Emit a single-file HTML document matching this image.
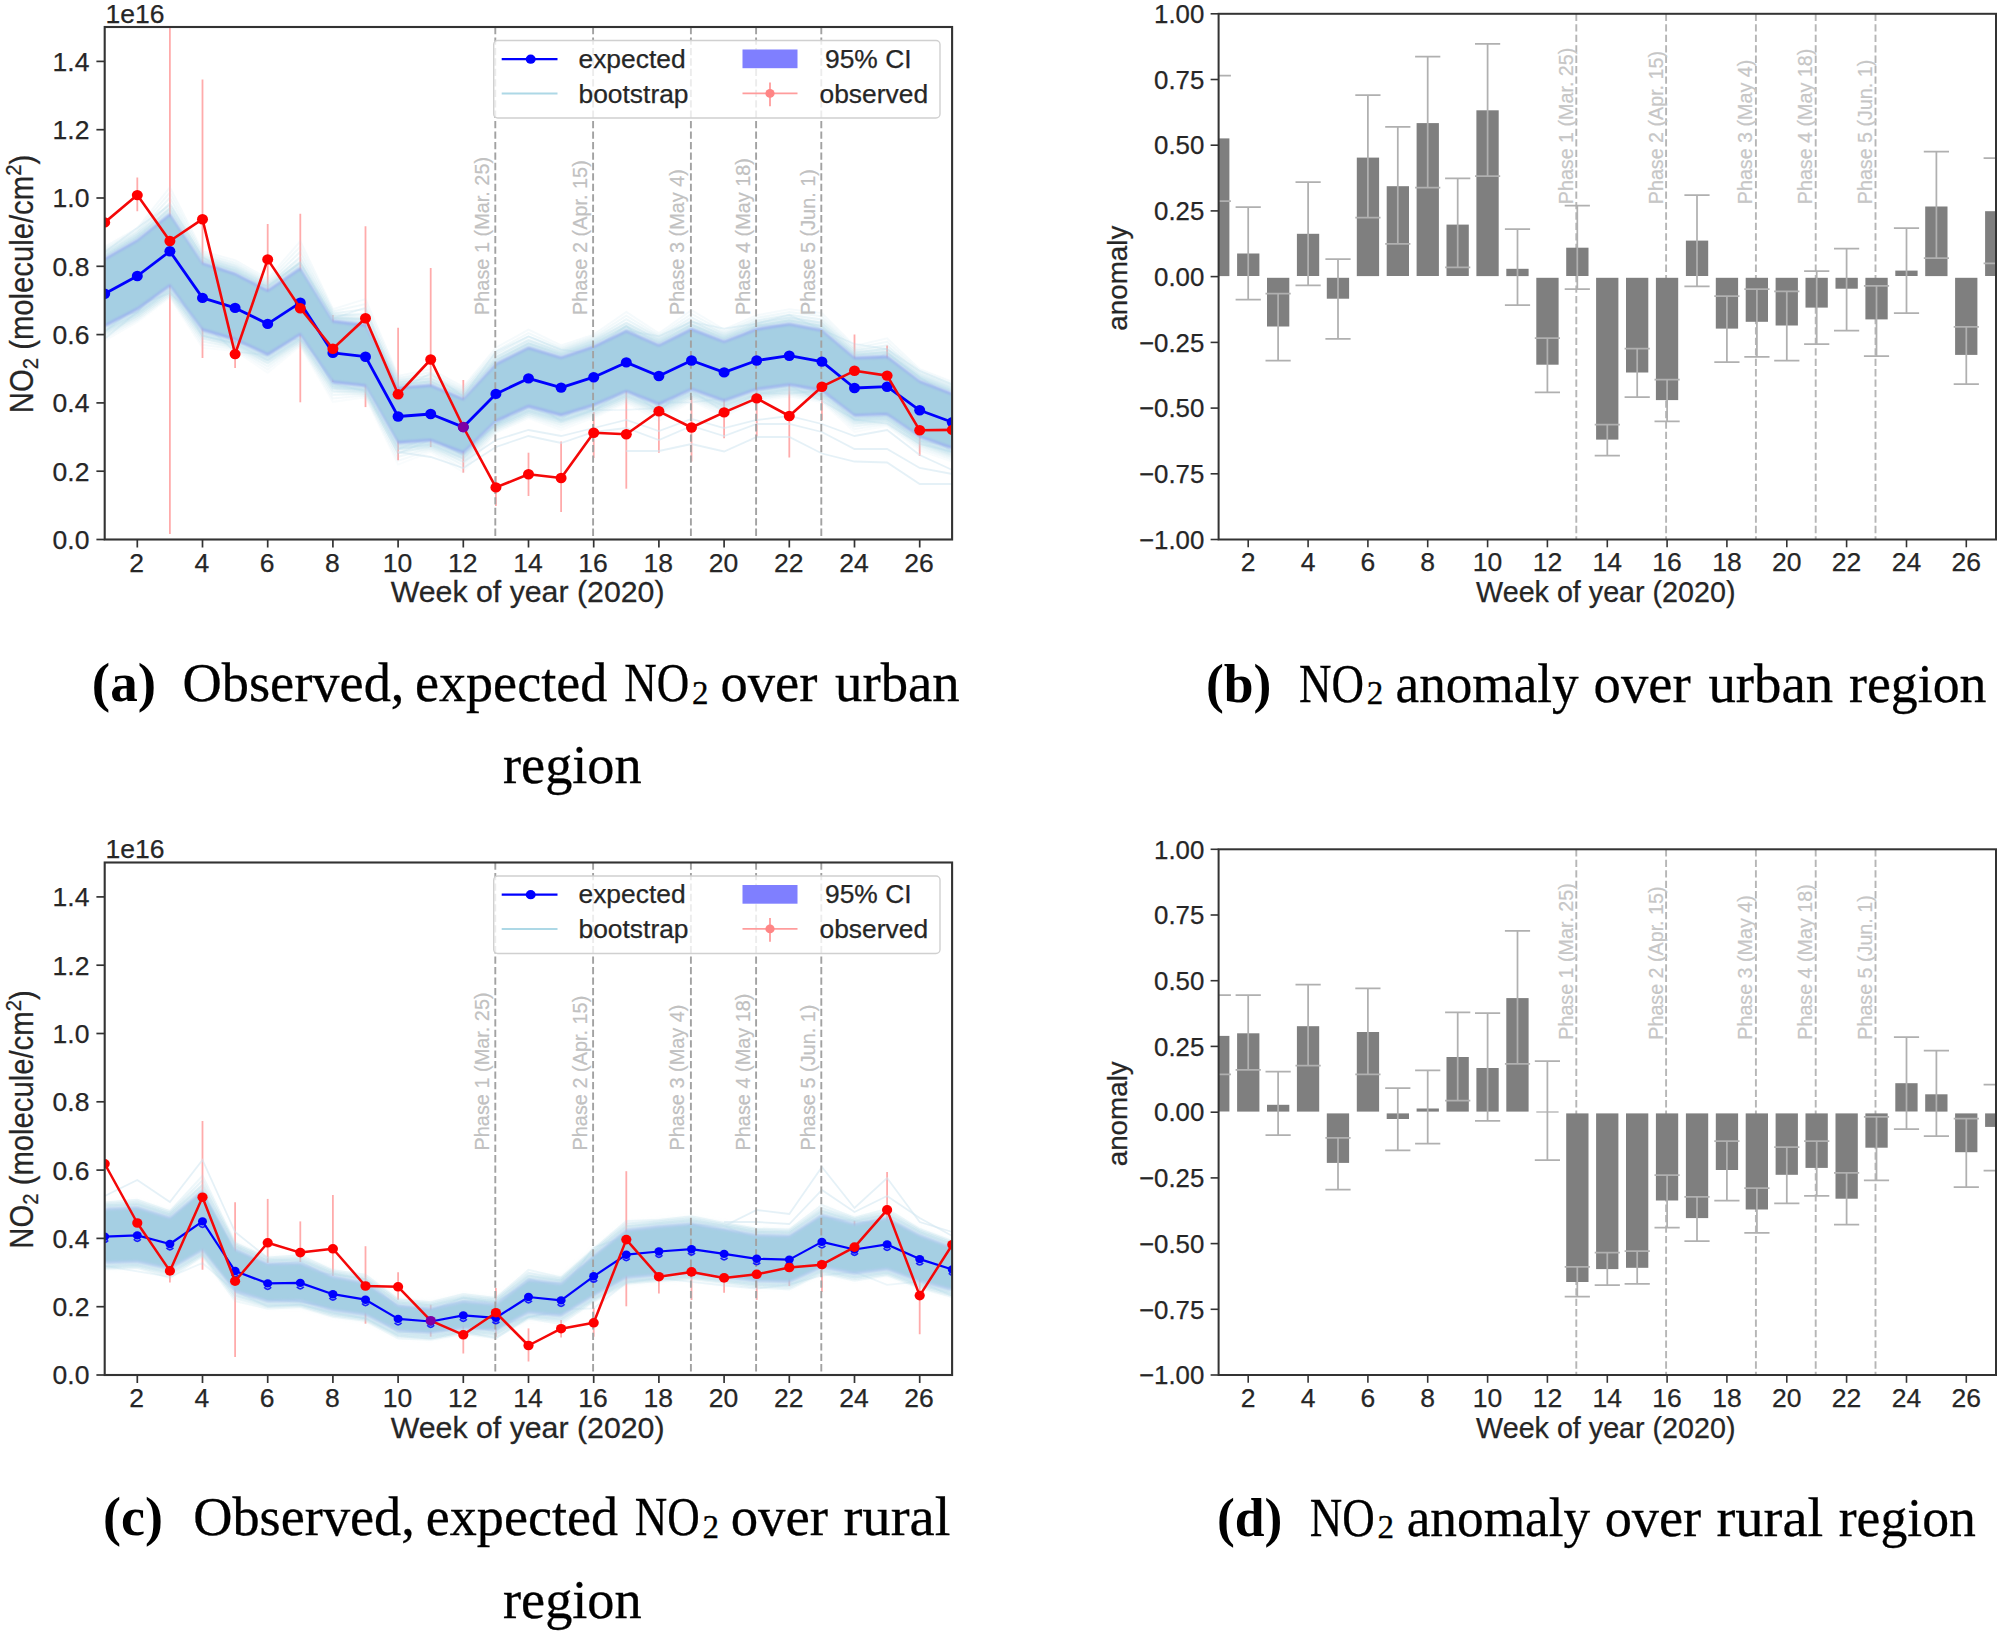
<!DOCTYPE html>
<html lang="en"><head><meta charset="utf-8"><title>NO2 observed, expected and anomaly</title>
<style>html,body{margin:0;padding:0;background:#fff}svg{display:block}</style></head>
<body>
<svg width="2001" height="1634" viewBox="0 0 2001 1634">
<rect width="2001" height="1634" fill="#ffffff"/>
<defs><filter id="soft" x="-5%" y="-20%" width="110%" height="140%"><feGaussianBlur stdDeviation="2.2"/></filter><filter id="soft2" x="-5%" y="-20%" width="110%" height="140%"><feGaussianBlur stdDeviation="1"/></filter></defs>
<g>
<clipPath id="clip1"><rect x="104.7" y="27" width="847.4" height="512.5"/></clipPath>
<g clip-path="url(#clip1)">
<line x1="137.3" y1="177.4" x2="137.3" y2="211.2" stroke="#ff0000" stroke-opacity="0.33" stroke-width="1.8"/>
<line x1="169.9" y1="28" x2="169.9" y2="534" stroke="#ff0000" stroke-opacity="0.33" stroke-width="1.8"/>
<line x1="202.5" y1="79.4" x2="202.5" y2="358" stroke="#ff0000" stroke-opacity="0.33" stroke-width="1.8"/>
<line x1="235.1" y1="341" x2="235.1" y2="368" stroke="#ff0000" stroke-opacity="0.33" stroke-width="1.8"/>
<line x1="267.7" y1="224" x2="267.7" y2="292.4" stroke="#ff0000" stroke-opacity="0.33" stroke-width="1.8"/>
<line x1="300.3" y1="213.7" x2="300.3" y2="402.3" stroke="#ff0000" stroke-opacity="0.33" stroke-width="1.8"/>
<line x1="332.9" y1="315" x2="332.9" y2="382" stroke="#ff0000" stroke-opacity="0.33" stroke-width="1.8"/>
<line x1="365.5" y1="226.3" x2="365.5" y2="407.1" stroke="#ff0000" stroke-opacity="0.33" stroke-width="1.8"/>
<line x1="398.1" y1="327.8" x2="398.1" y2="460.2" stroke="#ff0000" stroke-opacity="0.33" stroke-width="1.8"/>
<line x1="430.7" y1="268" x2="430.7" y2="447" stroke="#ff0000" stroke-opacity="0.33" stroke-width="1.8"/>
<line x1="463.3" y1="380" x2="463.3" y2="472.7" stroke="#ff0000" stroke-opacity="0.33" stroke-width="1.8"/>
<line x1="495.9" y1="476" x2="495.9" y2="506" stroke="#ff0000" stroke-opacity="0.33" stroke-width="1.8"/>
<line x1="528.5" y1="452.7" x2="528.5" y2="496" stroke="#ff0000" stroke-opacity="0.33" stroke-width="1.8"/>
<line x1="561.1" y1="441.5" x2="561.1" y2="512" stroke="#ff0000" stroke-opacity="0.33" stroke-width="1.8"/>
<line x1="593.7" y1="412" x2="593.7" y2="458" stroke="#ff0000" stroke-opacity="0.33" stroke-width="1.8"/>
<line x1="626.3" y1="390.4" x2="626.3" y2="488.7" stroke="#ff0000" stroke-opacity="0.33" stroke-width="1.8"/>
<line x1="658.9" y1="390" x2="658.9" y2="452.7" stroke="#ff0000" stroke-opacity="0.33" stroke-width="1.8"/>
<line x1="691.5" y1="396" x2="691.5" y2="461.5" stroke="#ff0000" stroke-opacity="0.33" stroke-width="1.8"/>
<line x1="724.1" y1="388" x2="724.1" y2="438.3" stroke="#ff0000" stroke-opacity="0.33" stroke-width="1.8"/>
<line x1="756.7" y1="375" x2="756.7" y2="436.7" stroke="#ff0000" stroke-opacity="0.33" stroke-width="1.8"/>
<line x1="789.3" y1="384" x2="789.3" y2="457.5" stroke="#ff0000" stroke-opacity="0.33" stroke-width="1.8"/>
<line x1="821.9" y1="365" x2="821.9" y2="420" stroke="#ff0000" stroke-opacity="0.33" stroke-width="1.8"/>
<line x1="854.5" y1="334.4" x2="854.5" y2="400" stroke="#ff0000" stroke-opacity="0.33" stroke-width="1.8"/>
<line x1="887.1" y1="345.6" x2="887.1" y2="400" stroke="#ff0000" stroke-opacity="0.33" stroke-width="1.8"/>
<line x1="919.7" y1="405" x2="919.7" y2="456" stroke="#ff0000" stroke-opacity="0.33" stroke-width="1.8"/>
<g filter="url(#soft)">
<polygon points="104.7,250.4 137.3,231.8 169.9,205.9 202.5,254.8 235.1,265.3 267.7,282.1 300.3,259.9 332.9,312.6 365.5,316.6 398.1,379.4 430.7,376.7 463.3,390.5 495.9,355.6 528.5,339.3 561.1,349 593.7,338.1 626.3,322.5 658.9,336.8 691.5,320.6 724.1,333 756.7,320.6 789.3,315.5 821.9,321.7 854.5,349.4 887.1,348.1 919.7,372.8 952.3,385.4 952.3,457.2 919.7,445.8 887.1,423.3 854.5,424.6 821.9,399.5 789.3,393.9 756.7,398.4 724.1,409.8 691.5,398.4 658.9,413.2 626.3,400.3 593.7,414.3 561.1,424.2 528.5,415.5 495.9,430.2 463.3,461.7 430.7,449.3 398.1,451.6 365.5,394.8 332.9,391.2 300.3,343.5 267.7,363.7 235.1,348.5 202.5,339 169.9,294.7 137.3,318.2 104.7,335" fill="#add8e6" fill-opacity="0.30"/>
<polygon points="104.7,254.9 137.3,236.3 169.9,210.4 202.5,259.3 235.1,269.8 267.7,286.6 300.3,264.4 332.9,317.1 365.5,321.1 398.1,383.9 430.7,381.2 463.3,395 495.9,360.1 528.5,343.8 561.1,353.5 593.7,342.6 626.3,327 658.9,341.3 691.5,325.1 724.1,337.5 756.7,325.1 789.3,320 821.9,326.2 854.5,353.9 887.1,352.6 919.7,377.3 952.3,389.9 952.3,453.7 919.7,442.3 887.1,419.8 854.5,421.1 821.9,396 789.3,390.4 756.7,394.9 724.1,406.3 691.5,394.9 658.9,409.7 626.3,396.8 593.7,410.8 561.1,420.7 528.5,412 495.9,426.7 463.3,458.2 430.7,445.8 398.1,448.1 365.5,391.3 332.9,387.7 300.3,340 267.7,360.2 235.1,345 202.5,335.5 169.9,291.2 137.3,314.7 104.7,331.5" fill="#add8e6" fill-opacity="0.45"/>
</g>
<polyline points="104.7,338.8 137.3,311.7 169.9,281.7 202.5,324.2 235.1,341.9 267.7,349.8 300.3,326.3 332.9,386.1 365.5,389.3 398.1,448.9 430.7,437.5 463.3,455.7 495.9,423.5 528.5,399.2 561.1,421.4 593.7,410.1 626.3,409.8 658.9,408.1 691.5,391 724.1,411.5 756.7,393.3 789.3,393.6 821.9,390.6 854.5,419.7 887.1,423.7 919.7,444 952.3,451.9" fill="none" stroke="#add8e6" stroke-opacity="0.22" stroke-width="1.8"/>
<polyline points="104.7,268.1 137.3,247 169.9,226.4 202.5,270.7 235.1,287.4 267.7,295.7 300.3,275.6 332.9,330.7 365.5,322.8 398.1,389.6 430.7,386.4 463.3,415.2 495.9,368.1 528.5,356.9 561.1,366.1 593.7,349.5 626.3,325.6 658.9,356.5 691.5,331.3 724.1,351.1 756.7,325.3 789.3,326.1 821.9,343.6 854.5,371.8 887.1,352.8 919.7,377.3 952.3,397.8" fill="none" stroke="#add8e6" stroke-opacity="0.22" stroke-width="1.8"/>
<polyline points="104.7,314.3 137.3,298.2 169.9,264.1 202.5,321.5 235.1,335.1 267.7,339.5 300.3,311.5 332.9,365.7 365.5,379.7 398.1,422.2 430.7,429.9 463.3,437.2 495.9,410 528.5,394.2 561.1,404.8 593.7,404.4 626.3,383 658.9,402.2 691.5,377.4 724.1,386.7 756.7,380.8 789.3,354.4 821.9,379.1 854.5,406.2 887.1,395.9 919.7,429.8 952.3,435.1" fill="none" stroke="#add8e6" stroke-opacity="0.22" stroke-width="1.8"/>
<polyline points="104.7,252.1 137.3,227.7 169.9,205 202.5,256.9 235.1,277.6 267.7,286.1 300.3,262.9 332.9,318.5 365.5,307.6 398.1,390.4 430.7,373.4 463.3,396.5 495.9,351.7 528.5,336.2 561.1,349.7 593.7,353.8 626.3,330.5 658.9,336.1 691.5,321.9 724.1,328.7 756.7,323.6 789.3,314.9 821.9,329.8 854.5,344 887.1,349.2 919.7,370.9 952.3,384.4" fill="none" stroke="#add8e6" stroke-opacity="0.22" stroke-width="1.8"/>
<polyline points="104.7,313.6 137.3,299.8 169.9,280.5 202.5,325.2 235.1,316.7 267.7,346 300.3,308.7 332.9,370 365.5,387.1 398.1,431.3 430.7,427.8 463.3,443.9 495.9,410.6 528.5,395.5 561.1,399.4 593.7,401.3 626.3,385.7 658.9,391.6 691.5,380 724.1,393.9 756.7,384.8 789.3,375.9 821.9,383.6 854.5,403 887.1,396.5 919.7,423.4 952.3,444.5" fill="none" stroke="#add8e6" stroke-opacity="0.22" stroke-width="1.8"/>
<polyline points="104.7,320.9 137.3,298.4 169.9,281.2 202.5,336 235.1,343.3 267.7,344.2 300.3,328.2 332.9,367.2 365.5,373.1 398.1,439.7 430.7,436.3 463.3,454.7 495.9,424.8 528.5,407.2 561.1,419.1 593.7,397 626.3,378.7 658.9,402.7 691.5,402.4 724.1,398.3 756.7,376.7 789.3,381.4 821.9,395 854.5,404.3 887.1,414.9 919.7,428.7 952.3,452" fill="none" stroke="#add8e6" stroke-opacity="0.22" stroke-width="1.8"/>
<polyline points="104.7,316.9 137.3,312.5 169.9,270.3 202.5,313.8 235.1,341.9 267.7,337.9 300.3,339.4 332.9,372 365.5,369 398.1,434.2 430.7,432.6 463.3,445.7 495.9,411 528.5,404.2 561.1,391.1 593.7,392.3 626.3,379.8 658.9,406.8 691.5,366.3 724.1,389 756.7,372 789.3,370.5 821.9,385.1 854.5,409.1 887.1,414.5 919.7,424.4 952.3,441.5" fill="none" stroke="#add8e6" stroke-opacity="0.22" stroke-width="1.8"/>
<polyline points="104.7,331.7 137.3,305.5 169.9,293.1 202.5,322.3 235.1,351.7 267.7,355.1 300.3,332.9 332.9,383.7 365.5,391.3 398.1,453.7 430.7,439.7 463.3,450.9 495.9,425 528.5,400.7 561.1,404.2 593.7,410.7 626.3,388.5 658.9,411.5 691.5,382.3 724.1,381.5 756.7,391.1 789.3,385.6 821.9,401 854.5,419 887.1,416.3 919.7,440.7 952.3,446.3" fill="none" stroke="#add8e6" stroke-opacity="0.22" stroke-width="1.8"/>
<polyline points="104.7,285.8 137.3,282 169.9,247.2 202.5,296.7 235.1,315 267.7,332.4 300.3,297.4 332.9,368.4 365.5,354.6 398.1,423.4 430.7,421.7 463.3,430.2 495.9,396.8 528.5,392 561.1,395.2 593.7,382 626.3,352.1 658.9,372.9 691.5,370.2 724.1,375.5 756.7,356 789.3,353.3 821.9,361.4 854.5,394.3 887.1,391 919.7,418.3 952.3,419" fill="none" stroke="#add8e6" stroke-opacity="0.22" stroke-width="1.8"/>
<polyline points="104.7,255.7 137.3,237.1 169.9,208.2 202.5,260.1 235.1,270.3 267.7,287.4 300.3,262.2 332.9,317.9 365.5,319.1 398.1,384.7 430.7,381.2 463.3,395.8 495.9,360 528.5,343.4 561.1,354.3 593.7,343.4 626.3,326.4 658.9,342.1 691.5,324.5 724.1,338.3 756.7,325.5 789.3,320.3 821.9,326 854.5,354.7 887.1,352.1 919.7,378.1 952.3,390.7" fill="none" stroke="#add8e6" stroke-opacity="0.30" stroke-width="2"/>
<polyline points="104.7,330.9 137.3,313.7 169.9,290 202.5,335.6 235.1,343.8 267.7,360.3 300.3,338.8 332.9,388.2 365.5,390.1 398.1,449.1 430.7,444.6 463.3,458.6 495.9,425.5 528.5,410.8 561.1,420.2 593.7,409.8 626.3,395.6 658.9,409.5 691.5,393.8 724.1,405.9 756.7,393.8 789.3,389.2 821.9,394.8 854.5,420.8 887.1,418.6 919.7,441.5 952.3,452.9" fill="none" stroke="#add8e6" stroke-opacity="0.26" stroke-width="2"/>
<polyline points="104.7,253.5 137.3,234.9 169.9,203 202.5,257.9 235.1,267.8 267.7,285.2 300.3,257 332.9,315.7 365.5,314.1 398.1,382.5 430.7,378.3 463.3,393.6 495.9,357 528.5,340 561.1,352.1 593.7,341.2 626.3,322.8 658.9,339.9 691.5,320.9 724.1,336.1 756.7,322.9 789.3,317.5 821.9,322.8 854.5,352.5 887.1,348.7 919.7,375.9 952.3,388.5" fill="none" stroke="#add8e6" stroke-opacity="0.25" stroke-width="2"/>
<polyline points="104.7,333.3 137.3,315.8 169.9,291.8 202.5,338.6 235.1,345.6 267.7,363.4 300.3,340.6 332.9,391.6 365.5,391.9 398.1,452.9 430.7,446.4 463.3,462.1 495.9,427.3 528.5,412.6 561.1,422.7 593.7,411.7 626.3,397.4 658.9,412.3 691.5,395.6 724.1,408.5 756.7,395.6 789.3,391 821.9,396.6 854.5,423.6 887.1,420.4 919.7,443.7 952.3,455.1" fill="none" stroke="#add8e6" stroke-opacity="0.21" stroke-width="2"/>
<polyline points="104.7,251.3 137.3,232.7 169.9,197.8 202.5,255.7 235.1,265.3 267.7,283 300.3,251.8 332.9,313.5 365.5,309.1 398.1,380.2 430.7,375.3 463.3,391.4 495.9,353.9 528.5,336.5 561.1,349.9 593.7,339 626.3,319.2 658.9,337.7 691.5,317.3 724.1,333.9 756.7,320.4 789.3,314.8 821.9,319.5 854.5,350.3 887.1,345.2 919.7,373.7 952.3,386.3" fill="none" stroke="#add8e6" stroke-opacity="0.21" stroke-width="2"/>
<polyline points="104.7,335.7 137.3,317.8 169.9,293.6 202.5,341.7 235.1,347.4 267.7,366.5 300.3,342.4 332.9,395 365.5,393.7 398.1,456.8 430.7,448.2 463.3,465.5 495.9,429.1 528.5,414.4 561.1,425.2 593.7,413.7 626.3,399.2 658.9,415.1 691.5,397.3 724.1,411.2 756.7,397.3 789.3,392.8 821.9,398.4 854.5,426.4 887.1,422.2 919.7,445.9 952.3,457.3" fill="none" stroke="#add8e6" stroke-opacity="0.16" stroke-width="2"/>
<polyline points="104.7,249.1 137.3,230.5 169.9,192.6 202.5,253.5 235.1,262.8 267.7,280.8 300.3,246.6 332.9,311.3 365.5,304.1 398.1,378.1 430.7,372.3 463.3,389.2 495.9,350.8 528.5,333.1 561.1,347.7 593.7,336.8 626.3,315.6 658.9,335.5 691.5,313.8 724.1,331.7 756.7,317.8 789.3,312.1 821.9,316.3 854.5,348.1 887.1,341.8 919.7,371.5 952.3,384.1" fill="none" stroke="#add8e6" stroke-opacity="0.16" stroke-width="2"/>
<polyline points="104.7,338.2 137.3,319.9 169.9,295.4 202.5,344.8 235.1,349.2 267.7,369.6 300.3,344.2 332.9,398.4 365.5,395.5 398.1,460.7 430.7,450 463.3,468.9 495.9,430.9 528.5,416.2 561.1,427.6 593.7,415.6 626.3,401 658.9,417.9 691.5,399.1 724.1,413.8 756.7,399.1 789.3,394.6 821.9,400.2 854.5,429.2 887.1,424 919.7,448.1 952.3,459.5" fill="none" stroke="#add8e6" stroke-opacity="0.12" stroke-width="2"/>
<polyline points="104.7,246.9 137.3,228.3 169.9,187.4 202.5,251.3 235.1,260.3 267.7,278.6 300.3,241.4 332.9,309.1 365.5,299.1 398.1,375.9 430.7,369.3 463.3,387 495.9,347.7 528.5,329.7 561.1,345.5 593.7,334.6 626.3,311.9 658.9,333.3 691.5,310.2 724.1,329.5 756.7,315.3 789.3,309.3 821.9,313.1 854.5,345.9 887.1,338.3 919.7,369.3 952.3,381.9" fill="none" stroke="#add8e6" stroke-opacity="0.12" stroke-width="2"/>
<polyline points="104.7,340.6 137.3,321.9 169.9,297.2 202.5,347.9 235.1,351 267.7,372.7 300.3,346 332.9,401.8 365.5,397.3 398.1,464.6 430.7,451.8 463.3,472.3 495.9,432.7 528.5,418 561.1,430.1 593.7,417.6 626.3,402.8 658.9,420.8 691.5,400.9 724.1,416.4 756.7,400.9 789.3,396.4 821.9,402 854.5,431.9 887.1,425.8 919.7,450.3 952.3,461.8" fill="none" stroke="#add8e6" stroke-opacity="0.08" stroke-width="2"/>
<polyline points="626.3,451 658.9,451 691.5,444 724.1,451.5 756.7,437 789.3,437 821.9,453.5 854.5,461.5 887.1,462.5 919.7,484 952.3,484" fill="none" stroke="#cfe6f1" stroke-opacity="0.55" stroke-width="1.8"/>
<polyline points="398.1,452 430.7,457 463.3,468 495.9,447 528.5,436 561.1,443 593.7,432 626.3,428 658.9,440 691.5,426 724.1,436 756.7,424 789.3,424 821.9,432 854.5,449 887.1,449 919.7,468 952.3,474" fill="none" stroke="#cfe6f1" stroke-opacity="0.55" stroke-width="1.8"/>
<polyline points="463.3,462 495.9,440 528.5,430 561.1,436 593.7,428 626.3,420 658.9,431 691.5,419 724.1,428 756.7,420 789.3,416 821.9,424 854.5,436 887.1,430 919.7,455 952.3,470" fill="none" stroke="#cfe6f1" stroke-opacity="0.55" stroke-width="1.8"/>
<g filter="url(#soft2)">
<polygon points="104.7,258.1 137.3,239.5 169.9,213.6 202.5,262.5 235.1,273 267.7,289.8 300.3,267.6 332.9,320.3 365.5,324.3 398.1,387.1 430.7,384.4 463.3,398.2 495.9,363.3 528.5,347 561.1,356.7 593.7,345.8 626.3,330.2 658.9,344.5 691.5,328.2 724.1,340.7 756.7,328.2 789.3,323.2 821.9,329.4 854.5,357.1 887.1,355.8 919.7,380.5 952.3,393.1 952.3,448.9 919.7,437.5 887.1,415 854.5,416.3 821.9,391.2 789.3,385.6 756.7,390.1 724.1,401.5 691.5,390.1 658.9,404.9 626.3,392 593.7,406 561.1,415.9 528.5,407.2 495.9,421.9 463.3,453.4 430.7,441 398.1,443.4 365.5,386.5 332.9,382.9 300.3,335.2 267.7,355.4 235.1,340.2 202.5,330.7 169.9,286.4 137.3,309.9 104.7,326.7" fill="#8a98f0" fill-opacity="0.8"/>
<polygon points="104.7,260.2 137.3,241.6 169.9,215.7 202.5,264.6 235.1,275.1 267.7,291.9 300.3,269.7 332.9,322.4 365.5,326.4 398.1,389.1 430.7,386.5 463.3,400.3 495.9,365.4 528.5,349.1 561.1,358.8 593.7,347.9 626.3,332.3 658.9,346.6 691.5,330.4 724.1,342.8 756.7,330.4 789.3,325.3 821.9,331.5 854.5,359.2 887.1,357.9 919.7,382.6 952.3,395.2 952.3,446.8 919.7,435.4 887.1,412.9 854.5,414.2 821.9,389.1 789.3,383.5 756.7,388.1 724.1,399.4 691.5,388.1 658.9,402.8 626.3,389.9 593.7,403.9 561.1,413.8 528.5,405.1 495.9,419.8 463.3,451.3 430.7,438.9 398.1,441.2 365.5,384.4 332.9,380.8 300.3,333.1 267.7,353.3 235.1,338.1 202.5,328.6 169.9,284.3 137.3,307.8 104.7,324.6" fill="#a5cfe3" fill-opacity="1"/>
</g>
<line x1="495.3" y1="27" x2="495.3" y2="539.5" stroke="#a2a2a2" stroke-width="1.9" stroke-dasharray="7.3 3.15"/>
<line x1="593.1" y1="27" x2="593.1" y2="539.5" stroke="#a2a2a2" stroke-width="1.9" stroke-dasharray="7.3 3.15"/>
<line x1="690.9" y1="27" x2="690.9" y2="539.5" stroke="#a2a2a2" stroke-width="1.9" stroke-dasharray="7.3 3.15"/>
<line x1="756.1" y1="27" x2="756.1" y2="539.5" stroke="#a2a2a2" stroke-width="1.9" stroke-dasharray="7.3 3.15"/>
<line x1="821.3" y1="27" x2="821.3" y2="539.5" stroke="#a2a2a2" stroke-width="1.9" stroke-dasharray="7.3 3.15"/>
<text transform="translate(488.8,315) rotate(-90)" font-family="'Liberation Sans', Arial, Helvetica, sans-serif" font-size="19.9" text-anchor="start" fill="#c1c1c1" stroke="#c1c1c1" stroke-width="0.2">Phase 1 (Mar. 25)</text>
<text transform="translate(586.6,315) rotate(-90)" font-family="'Liberation Sans', Arial, Helvetica, sans-serif" font-size="19.9" text-anchor="start" fill="#c1c1c1" stroke="#c1c1c1" stroke-width="0.2">Phase 2 (Apr. 15)</text>
<text transform="translate(684.4,315) rotate(-90)" font-family="'Liberation Sans', Arial, Helvetica, sans-serif" font-size="19.9" text-anchor="start" fill="#c1c1c1" stroke="#c1c1c1" stroke-width="0.2">Phase 3 (May 4)</text>
<text transform="translate(749.6,315) rotate(-90)" font-family="'Liberation Sans', Arial, Helvetica, sans-serif" font-size="19.9" text-anchor="start" fill="#c1c1c1" stroke="#c1c1c1" stroke-width="0.2">Phase 4 (May 18)</text>
<text transform="translate(814.8,315) rotate(-90)" font-family="'Liberation Sans', Arial, Helvetica, sans-serif" font-size="19.9" text-anchor="start" fill="#c1c1c1" stroke="#c1c1c1" stroke-width="0.2">Phase 5 (Jun. 1)</text>
<polyline points="104.7,293.7 137.3,276 169.9,251.3 202.5,297.9 235.1,307.9 267.7,323.9 300.3,302.7 332.9,352.9 365.5,356.7 398.1,416.5 430.7,414 463.3,427.1 495.9,393.9 528.5,378.4 561.1,387.6 593.7,377.2 626.3,362.4 658.9,376 691.5,360.5 724.1,372.4 756.7,360.5 789.3,355.7 821.9,361.6 854.5,388 887.1,386.7 919.7,410.3 952.3,422.3" fill="none" stroke="#0000ff" stroke-width="2.8" stroke-linejoin="round"/>
<ellipse cx="104.7" cy="293.7" rx="5.5" ry="5.2" fill="#0000ff"/>
<ellipse cx="137.3" cy="276" rx="5.5" ry="5.2" fill="#0000ff"/>
<ellipse cx="169.9" cy="251.3" rx="5.5" ry="5.2" fill="#0000ff"/>
<ellipse cx="202.5" cy="297.9" rx="5.5" ry="5.2" fill="#0000ff"/>
<ellipse cx="235.1" cy="307.9" rx="5.5" ry="5.2" fill="#0000ff"/>
<ellipse cx="267.7" cy="323.9" rx="5.5" ry="5.2" fill="#0000ff"/>
<ellipse cx="300.3" cy="302.7" rx="5.5" ry="5.2" fill="#0000ff"/>
<ellipse cx="332.9" cy="352.9" rx="5.5" ry="5.2" fill="#0000ff"/>
<ellipse cx="365.5" cy="356.7" rx="5.5" ry="5.2" fill="#0000ff"/>
<ellipse cx="398.1" cy="416.5" rx="5.5" ry="5.2" fill="#0000ff"/>
<ellipse cx="430.7" cy="414" rx="5.5" ry="5.2" fill="#0000ff"/>
<ellipse cx="463.3" cy="427.1" rx="5.5" ry="5.2" fill="#0000ff"/>
<ellipse cx="495.9" cy="393.9" rx="5.5" ry="5.2" fill="#0000ff"/>
<ellipse cx="528.5" cy="378.4" rx="5.5" ry="5.2" fill="#0000ff"/>
<ellipse cx="561.1" cy="387.6" rx="5.5" ry="5.2" fill="#0000ff"/>
<ellipse cx="593.7" cy="377.2" rx="5.5" ry="5.2" fill="#0000ff"/>
<ellipse cx="626.3" cy="362.4" rx="5.5" ry="5.2" fill="#0000ff"/>
<ellipse cx="658.9" cy="376" rx="5.5" ry="5.2" fill="#0000ff"/>
<ellipse cx="691.5" cy="360.5" rx="5.5" ry="5.2" fill="#0000ff"/>
<ellipse cx="724.1" cy="372.4" rx="5.5" ry="5.2" fill="#0000ff"/>
<ellipse cx="756.7" cy="360.5" rx="5.5" ry="5.2" fill="#0000ff"/>
<ellipse cx="789.3" cy="355.7" rx="5.5" ry="5.2" fill="#0000ff"/>
<ellipse cx="821.9" cy="361.6" rx="5.5" ry="5.2" fill="#0000ff"/>
<ellipse cx="854.5" cy="388" rx="5.5" ry="5.2" fill="#0000ff"/>
<ellipse cx="887.1" cy="386.7" rx="5.5" ry="5.2" fill="#0000ff"/>
<ellipse cx="919.7" cy="410.3" rx="5.5" ry="5.2" fill="#0000ff"/>
<ellipse cx="952.3" cy="422.3" rx="5.5" ry="5.2" fill="#0000ff"/>
<polyline points="104.7,222.4 137.3,195.1 169.9,241 202.5,219.2 235.1,354.1 267.7,259.4 300.3,308.2 332.9,348.7 365.5,318.2 398.1,394.3 430.7,359.5 463.3,427 495.9,487.4 528.5,474.3 561.1,478 593.7,432.7 626.3,434.3 658.9,411.3 691.5,427.5 724.1,412.4 756.7,398.4 789.3,416 821.9,386.7 854.5,370.8 887.1,375.6 919.7,430.3 952.3,429.9" fill="none" stroke="#f40808" stroke-width="2.6" stroke-linejoin="round"/>
<ellipse cx="104.7" cy="222.4" rx="5.5" ry="5.2" fill="#ff0000"/>
<ellipse cx="137.3" cy="195.1" rx="5.5" ry="5.2" fill="#ff0000"/>
<ellipse cx="169.9" cy="241" rx="5.5" ry="5.2" fill="#ff0000"/>
<ellipse cx="202.5" cy="219.2" rx="5.5" ry="5.2" fill="#ff0000"/>
<ellipse cx="235.1" cy="354.1" rx="5.5" ry="5.2" fill="#ff0000"/>
<ellipse cx="267.7" cy="259.4" rx="5.5" ry="5.2" fill="#ff0000"/>
<ellipse cx="300.3" cy="308.2" rx="5.5" ry="5.2" fill="#ff0000"/>
<ellipse cx="332.9" cy="348.7" rx="5.5" ry="5.2" fill="#ff0000"/>
<ellipse cx="365.5" cy="318.2" rx="5.5" ry="5.2" fill="#ff0000"/>
<ellipse cx="398.1" cy="394.3" rx="5.5" ry="5.2" fill="#ff0000"/>
<ellipse cx="430.7" cy="359.5" rx="5.5" ry="5.2" fill="#ff0000"/>
<ellipse cx="463.3" cy="427" rx="5.5" ry="5.2" fill="#7d00a5"/>
<ellipse cx="495.9" cy="487.4" rx="5.5" ry="5.2" fill="#ff0000"/>
<ellipse cx="528.5" cy="474.3" rx="5.5" ry="5.2" fill="#ff0000"/>
<ellipse cx="561.1" cy="478" rx="5.5" ry="5.2" fill="#ff0000"/>
<ellipse cx="593.7" cy="432.7" rx="5.5" ry="5.2" fill="#ff0000"/>
<ellipse cx="626.3" cy="434.3" rx="5.5" ry="5.2" fill="#ff0000"/>
<ellipse cx="658.9" cy="411.3" rx="5.5" ry="5.2" fill="#ff0000"/>
<ellipse cx="691.5" cy="427.5" rx="5.5" ry="5.2" fill="#ff0000"/>
<ellipse cx="724.1" cy="412.4" rx="5.5" ry="5.2" fill="#ff0000"/>
<ellipse cx="756.7" cy="398.4" rx="5.5" ry="5.2" fill="#ff0000"/>
<ellipse cx="789.3" cy="416" rx="5.5" ry="5.2" fill="#ff0000"/>
<ellipse cx="821.9" cy="386.7" rx="5.5" ry="5.2" fill="#ff0000"/>
<ellipse cx="854.5" cy="370.8" rx="5.5" ry="5.2" fill="#ff0000"/>
<ellipse cx="887.1" cy="375.6" rx="5.5" ry="5.2" fill="#ff0000"/>
<ellipse cx="919.7" cy="430.3" rx="5.5" ry="5.2" fill="#ff0000"/>
<ellipse cx="952.3" cy="429.9" rx="5.5" ry="5.2" fill="#ff0000"/>
</g>
<rect x="493.7" y="40.5" width="446.3" height="77.5" rx="4" ry="4" fill="#ffffff" fill-opacity="0.8" stroke="#d0d0d0" stroke-width="1.4"/>
<line x1="501.7" y1="59.2" x2="557.5" y2="59.2" stroke="#0000ff" stroke-width="2.2"/>
<ellipse cx="530.7" cy="59.2" rx="5" ry="4.6" fill="#0000ff"/>
<line x1="501.7" y1="93.4" x2="557.5" y2="93.4" stroke="#add8e6" stroke-width="2"/>
<rect x="742.5" y="49.5" width="55" height="18.7" fill="#7f7fff"/>
<line x1="742.5" y1="93.4" x2="797.5" y2="93.4" stroke="#ff9c9c" stroke-width="1.8"/>
<line x1="770" y1="82.5" x2="770" y2="106.2" stroke="#ff9c9c" stroke-width="1.8"/>
<ellipse cx="770" cy="93.4" rx="4.6" ry="4.3" fill="#ff8585"/>
<text transform="translate(578.5,67.6)" font-family="'Liberation Sans', Arial, Helvetica, sans-serif" font-size="26.4" text-anchor="start" fill="#262626" stroke="#262626" stroke-width="0.25">expected</text>
<text transform="translate(578.5,102.6)" font-family="'Liberation Sans', Arial, Helvetica, sans-serif" font-size="26.4" text-anchor="start" fill="#262626" stroke="#262626" stroke-width="0.25">bootstrap</text>
<text transform="translate(825,67.6)" font-family="'Liberation Sans', Arial, Helvetica, sans-serif" font-size="26.4" text-anchor="start" fill="#262626" stroke="#262626" stroke-width="0.25">95% CI</text>
<text transform="translate(819.5,102.6)" font-family="'Liberation Sans', Arial, Helvetica, sans-serif" font-size="26.4" text-anchor="start" fill="#262626" stroke="#262626" stroke-width="0.25">observed</text>
<rect x="104.7" y="27" width="847.4" height="512.5" fill="none" stroke="#333333" stroke-width="2.1"/>
<line x1="96.4" y1="539.5" x2="104.7" y2="539.5" stroke="#333333" stroke-width="1.7"/>
<text transform="translate(89.4,548.9)" font-family="'Liberation Sans', Arial, Helvetica, sans-serif" font-size="26.5" text-anchor="end" fill="#262626" stroke="#262626" stroke-width="0.25">0.0</text>
<line x1="96.4" y1="471.2" x2="104.7" y2="471.2" stroke="#333333" stroke-width="1.7"/>
<text transform="translate(89.4,480.6)" font-family="'Liberation Sans', Arial, Helvetica, sans-serif" font-size="26.5" text-anchor="end" fill="#262626" stroke="#262626" stroke-width="0.25">0.2</text>
<line x1="96.4" y1="402.9" x2="104.7" y2="402.9" stroke="#333333" stroke-width="1.7"/>
<text transform="translate(89.4,412.3)" font-family="'Liberation Sans', Arial, Helvetica, sans-serif" font-size="26.5" text-anchor="end" fill="#262626" stroke="#262626" stroke-width="0.25">0.4</text>
<line x1="96.4" y1="334.6" x2="104.7" y2="334.6" stroke="#333333" stroke-width="1.7"/>
<text transform="translate(89.4,344)" font-family="'Liberation Sans', Arial, Helvetica, sans-serif" font-size="26.5" text-anchor="end" fill="#262626" stroke="#262626" stroke-width="0.25">0.6</text>
<line x1="96.4" y1="266.3" x2="104.7" y2="266.3" stroke="#333333" stroke-width="1.7"/>
<text transform="translate(89.4,275.7)" font-family="'Liberation Sans', Arial, Helvetica, sans-serif" font-size="26.5" text-anchor="end" fill="#262626" stroke="#262626" stroke-width="0.25">0.8</text>
<line x1="96.4" y1="198" x2="104.7" y2="198" stroke="#333333" stroke-width="1.7"/>
<text transform="translate(89.4,207.4)" font-family="'Liberation Sans', Arial, Helvetica, sans-serif" font-size="26.5" text-anchor="end" fill="#262626" stroke="#262626" stroke-width="0.25">1.0</text>
<line x1="96.4" y1="129.7" x2="104.7" y2="129.7" stroke="#333333" stroke-width="1.7"/>
<text transform="translate(89.4,139.1)" font-family="'Liberation Sans', Arial, Helvetica, sans-serif" font-size="26.5" text-anchor="end" fill="#262626" stroke="#262626" stroke-width="0.25">1.2</text>
<line x1="96.4" y1="61.4" x2="104.7" y2="61.4" stroke="#333333" stroke-width="1.7"/>
<text transform="translate(89.4,70.8)" font-family="'Liberation Sans', Arial, Helvetica, sans-serif" font-size="26.5" text-anchor="end" fill="#262626" stroke="#262626" stroke-width="0.25">1.4</text>
<line x1="137.3" y1="539.5" x2="137.3" y2="547.5" stroke="#333333" stroke-width="1.7"/>
<text transform="translate(136.7,571.6)" font-family="'Liberation Sans', Arial, Helvetica, sans-serif" font-size="26.5" text-anchor="middle" fill="#262626" stroke="#262626" stroke-width="0.25">2</text>
<line x1="202.5" y1="539.5" x2="202.5" y2="547.5" stroke="#333333" stroke-width="1.7"/>
<text transform="translate(201.9,571.6)" font-family="'Liberation Sans', Arial, Helvetica, sans-serif" font-size="26.5" text-anchor="middle" fill="#262626" stroke="#262626" stroke-width="0.25">4</text>
<line x1="267.7" y1="539.5" x2="267.7" y2="547.5" stroke="#333333" stroke-width="1.7"/>
<text transform="translate(267.1,571.6)" font-family="'Liberation Sans', Arial, Helvetica, sans-serif" font-size="26.5" text-anchor="middle" fill="#262626" stroke="#262626" stroke-width="0.25">6</text>
<line x1="332.9" y1="539.5" x2="332.9" y2="547.5" stroke="#333333" stroke-width="1.7"/>
<text transform="translate(332.3,571.6)" font-family="'Liberation Sans', Arial, Helvetica, sans-serif" font-size="26.5" text-anchor="middle" fill="#262626" stroke="#262626" stroke-width="0.25">8</text>
<line x1="398.1" y1="539.5" x2="398.1" y2="547.5" stroke="#333333" stroke-width="1.7"/>
<text transform="translate(397.5,571.6)" font-family="'Liberation Sans', Arial, Helvetica, sans-serif" font-size="26.5" text-anchor="middle" fill="#262626" stroke="#262626" stroke-width="0.25">10</text>
<line x1="463.3" y1="539.5" x2="463.3" y2="547.5" stroke="#333333" stroke-width="1.7"/>
<text transform="translate(462.7,571.6)" font-family="'Liberation Sans', Arial, Helvetica, sans-serif" font-size="26.5" text-anchor="middle" fill="#262626" stroke="#262626" stroke-width="0.25">12</text>
<line x1="528.5" y1="539.5" x2="528.5" y2="547.5" stroke="#333333" stroke-width="1.7"/>
<text transform="translate(527.9,571.6)" font-family="'Liberation Sans', Arial, Helvetica, sans-serif" font-size="26.5" text-anchor="middle" fill="#262626" stroke="#262626" stroke-width="0.25">14</text>
<line x1="593.7" y1="539.5" x2="593.7" y2="547.5" stroke="#333333" stroke-width="1.7"/>
<text transform="translate(593.1,571.6)" font-family="'Liberation Sans', Arial, Helvetica, sans-serif" font-size="26.5" text-anchor="middle" fill="#262626" stroke="#262626" stroke-width="0.25">16</text>
<line x1="658.9" y1="539.5" x2="658.9" y2="547.5" stroke="#333333" stroke-width="1.7"/>
<text transform="translate(658.3,571.6)" font-family="'Liberation Sans', Arial, Helvetica, sans-serif" font-size="26.5" text-anchor="middle" fill="#262626" stroke="#262626" stroke-width="0.25">18</text>
<line x1="724.1" y1="539.5" x2="724.1" y2="547.5" stroke="#333333" stroke-width="1.7"/>
<text transform="translate(723.5,571.6)" font-family="'Liberation Sans', Arial, Helvetica, sans-serif" font-size="26.5" text-anchor="middle" fill="#262626" stroke="#262626" stroke-width="0.25">20</text>
<line x1="789.3" y1="539.5" x2="789.3" y2="547.5" stroke="#333333" stroke-width="1.7"/>
<text transform="translate(788.7,571.6)" font-family="'Liberation Sans', Arial, Helvetica, sans-serif" font-size="26.5" text-anchor="middle" fill="#262626" stroke="#262626" stroke-width="0.25">22</text>
<line x1="854.5" y1="539.5" x2="854.5" y2="547.5" stroke="#333333" stroke-width="1.7"/>
<text transform="translate(853.9,571.6)" font-family="'Liberation Sans', Arial, Helvetica, sans-serif" font-size="26.5" text-anchor="middle" fill="#262626" stroke="#262626" stroke-width="0.25">24</text>
<line x1="919.7" y1="539.5" x2="919.7" y2="547.5" stroke="#333333" stroke-width="1.7"/>
<text transform="translate(919.1,571.6)" font-family="'Liberation Sans', Arial, Helvetica, sans-serif" font-size="26.5" text-anchor="middle" fill="#262626" stroke="#262626" stroke-width="0.25">26</text>
<text transform="translate(105.5,22.5)" font-family="'Liberation Sans', Arial, Helvetica, sans-serif" font-size="26.5" text-anchor="start" fill="#262626" stroke="#262626" stroke-width="0.25">1e16</text>
<text transform="translate(527.6,602.2) scale(1.010,1)" font-family="'Liberation Sans', Arial, Helvetica, sans-serif" font-size="30" text-anchor="middle" fill="#262626" stroke="#262626" stroke-width="0.25">Week of year (2020)</text>
<text transform="translate(32.7,284) rotate(-90)" font-family="'Liberation Sans', Arial, Helvetica, sans-serif" font-size="32.5" text-anchor="middle" fill="#262626" textLength="258.5" lengthAdjust="spacingAndGlyphs" stroke="#262626" stroke-width="0.25">NO<tspan font-size="22.7" dy="5.6">2</tspan><tspan dy="-5.6"> (molecule/cm</tspan><tspan font-size="22.7" dy="-11.8">2</tspan><tspan dy="11.8">)</tspan></text>
<clipPath id="clip2"><rect x="104.7" y="862.5" width="847.4" height="512.5"/></clipPath>
<g clip-path="url(#clip2)">
<line x1="169.9" y1="1261" x2="169.9" y2="1282.5" stroke="#ff0000" stroke-opacity="0.33" stroke-width="1.8"/>
<line x1="202.5" y1="1120.9" x2="202.5" y2="1269.7" stroke="#ff0000" stroke-opacity="0.33" stroke-width="1.8"/>
<line x1="235.1" y1="1202.3" x2="235.1" y2="1357.1" stroke="#ff0000" stroke-opacity="0.33" stroke-width="1.8"/>
<line x1="267.7" y1="1198.9" x2="267.7" y2="1262.8" stroke="#ff0000" stroke-opacity="0.33" stroke-width="1.8"/>
<line x1="300.3" y1="1221.4" x2="300.3" y2="1262" stroke="#ff0000" stroke-opacity="0.33" stroke-width="1.8"/>
<line x1="332.9" y1="1195.1" x2="332.9" y2="1275.7" stroke="#ff0000" stroke-opacity="0.33" stroke-width="1.8"/>
<line x1="365.5" y1="1246.2" x2="365.5" y2="1323.7" stroke="#ff0000" stroke-opacity="0.33" stroke-width="1.8"/>
<line x1="398.1" y1="1272.3" x2="398.1" y2="1299.7" stroke="#ff0000" stroke-opacity="0.33" stroke-width="1.8"/>
<line x1="430.7" y1="1304.7" x2="430.7" y2="1336.7" stroke="#ff0000" stroke-opacity="0.33" stroke-width="1.8"/>
<line x1="463.3" y1="1316" x2="463.3" y2="1353.5" stroke="#ff0000" stroke-opacity="0.33" stroke-width="1.8"/>
<line x1="495.9" y1="1288" x2="495.9" y2="1336.7" stroke="#ff0000" stroke-opacity="0.33" stroke-width="1.8"/>
<line x1="528.5" y1="1328.4" x2="528.5" y2="1361.5" stroke="#ff0000" stroke-opacity="0.33" stroke-width="1.8"/>
<line x1="561.1" y1="1320" x2="561.1" y2="1337.5" stroke="#ff0000" stroke-opacity="0.33" stroke-width="1.8"/>
<line x1="593.7" y1="1308" x2="593.7" y2="1336.7" stroke="#ff0000" stroke-opacity="0.33" stroke-width="1.8"/>
<line x1="626.3" y1="1171.2" x2="626.3" y2="1306.3" stroke="#ff0000" stroke-opacity="0.33" stroke-width="1.8"/>
<line x1="658.9" y1="1260" x2="658.9" y2="1293.5" stroke="#ff0000" stroke-opacity="0.33" stroke-width="1.8"/>
<line x1="691.5" y1="1252" x2="691.5" y2="1300" stroke="#ff0000" stroke-opacity="0.33" stroke-width="1.8"/>
<line x1="724.1" y1="1262" x2="724.1" y2="1292.7" stroke="#ff0000" stroke-opacity="0.33" stroke-width="1.8"/>
<line x1="756.7" y1="1255" x2="756.7" y2="1299.9" stroke="#ff0000" stroke-opacity="0.33" stroke-width="1.8"/>
<line x1="789.3" y1="1252" x2="789.3" y2="1286" stroke="#ff0000" stroke-opacity="0.33" stroke-width="1.8"/>
<line x1="821.9" y1="1245" x2="821.9" y2="1292" stroke="#ff0000" stroke-opacity="0.33" stroke-width="1.8"/>
<line x1="854.5" y1="1220.8" x2="854.5" y2="1265" stroke="#ff0000" stroke-opacity="0.33" stroke-width="1.8"/>
<line x1="887.1" y1="1172" x2="887.1" y2="1245" stroke="#ff0000" stroke-opacity="0.33" stroke-width="1.8"/>
<line x1="919.7" y1="1260" x2="919.7" y2="1334.3" stroke="#ff0000" stroke-opacity="0.33" stroke-width="1.8"/>
<line x1="952.3" y1="1216.8" x2="952.3" y2="1270" stroke="#ff0000" stroke-opacity="0.33" stroke-width="1.8"/>
<g filter="url(#soft)">
<polygon points="104.7,1202.9 137.3,1201.5 169.9,1211.6 202.5,1185 235.1,1243.3 267.7,1257.9 300.3,1257.3 332.9,1270.6 365.5,1277 398.1,1299.6 430.7,1302.6 463.3,1295.5 495.9,1298.3 528.5,1273.8 561.1,1277.8 593.7,1249.5 626.3,1224.1 658.9,1220.4 691.5,1217.7 724.1,1223.2 756.7,1229 789.3,1229.9 821.9,1209.1 854.5,1218 887.1,1212 919.7,1229.3 952.3,1241.5 952.3,1295.5 919.7,1286.9 887.1,1274.8 854.5,1279 821.9,1272.7 789.3,1287.3 756.7,1286.6 724.1,1282.6 691.5,1278.7 658.9,1280.6 626.3,1283.3 593.7,1301.1 561.1,1321 528.5,1318.2 495.9,1335.3 463.3,1333.3 430.7,1338.4 398.1,1336.2 365.5,1320.4 332.9,1315.8 300.3,1306.5 267.7,1306.9 235.1,1296.7 202.5,1255.8 169.9,1274.4 137.3,1267.3 104.7,1268.3" fill="#add8e6" fill-opacity="0.30"/>
<polygon points="104.7,1205.9 137.3,1204.5 169.9,1214.6 202.5,1188 235.1,1246.3 267.7,1260.9 300.3,1260.3 332.9,1273.6 365.5,1280 398.1,1302.6 430.7,1305.6 463.3,1298.5 495.9,1301.3 528.5,1276.8 561.1,1280.8 593.7,1252.5 626.3,1227.1 658.9,1223.4 691.5,1220.7 724.1,1226.2 756.7,1232 789.3,1232.9 821.9,1212.1 854.5,1221 887.1,1215 919.7,1232.3 952.3,1244.5 952.3,1293.5 919.7,1284.9 887.1,1272.8 854.5,1277 821.9,1270.7 789.3,1285.3 756.7,1284.6 724.1,1280.6 691.5,1276.7 658.9,1278.6 626.3,1281.3 593.7,1299.1 561.1,1319 528.5,1316.2 495.9,1333.3 463.3,1331.3 430.7,1336.4 398.1,1334.2 365.5,1318.4 332.9,1313.8 300.3,1304.5 267.7,1304.9 235.1,1294.7 202.5,1253.8 169.9,1272.4 137.3,1265.3 104.7,1266.3" fill="#add8e6" fill-opacity="0.45"/>
</g>
<polyline points="104.7,1265.9 137.3,1271.4 169.9,1276.9 202.5,1263 235.1,1291.2 267.7,1306.5 300.3,1304.6 332.9,1312.7 365.5,1318.4 398.1,1335.8 430.7,1338.8 463.3,1331.5 495.9,1338.1 528.5,1317.3 561.1,1309.5 593.7,1308.3 626.3,1282.7 658.9,1278 691.5,1281.9 724.1,1285.5 756.7,1288.5 789.3,1284.3 821.9,1275.5 854.5,1271.8 887.1,1284.8 919.7,1281.6 952.3,1296" fill="none" stroke="#add8e6" stroke-opacity="0.22" stroke-width="1.8"/>
<polyline points="104.7,1238.4 137.3,1234.3 169.9,1247.2 202.5,1197.8 235.1,1270.2 267.7,1282.4 300.3,1280.6 332.9,1300.4 365.5,1295.5 398.1,1318.4 430.7,1314.5 463.3,1316.2 495.9,1311.9 528.5,1290.2 561.1,1309.7 593.7,1279.4 626.3,1254.3 658.9,1252.1 691.5,1240.6 724.1,1247.7 756.7,1260.8 789.3,1247.8 821.9,1243.2 854.5,1239.1 887.1,1244.7 919.7,1252.7 952.3,1278.1" fill="none" stroke="#add8e6" stroke-opacity="0.22" stroke-width="1.8"/>
<polyline points="104.7,1252.6 137.3,1242.9 169.9,1257.7 202.5,1241.8 235.1,1281.6 267.7,1299.1 300.3,1302 332.9,1307.2 365.5,1310.6 398.1,1332.4 430.7,1331 463.3,1329.5 495.9,1327.5 528.5,1316.8 561.1,1311.9 593.7,1286.2 626.3,1272.6 658.9,1265.5 691.5,1261.7 724.1,1270.6 756.7,1279.8 789.3,1264.6 821.9,1260.3 854.5,1266.5 887.1,1261.9 919.7,1280.4 952.3,1278.6" fill="none" stroke="#add8e6" stroke-opacity="0.22" stroke-width="1.8"/>
<polyline points="104.7,1246.5 137.3,1247.5 169.9,1253.6 202.5,1231.5 235.1,1277.6 267.7,1293.9 300.3,1301.3 332.9,1306.6 365.5,1310.8 398.1,1327.3 430.7,1326.1 463.3,1324.2 495.9,1331.6 528.5,1299.4 561.1,1311.4 593.7,1290.3 626.3,1266.7 658.9,1266.6 691.5,1268 724.1,1276.9 756.7,1276.2 789.3,1278.8 821.9,1255.2 854.5,1265.1 887.1,1256.6 919.7,1271 952.3,1276.8" fill="none" stroke="#add8e6" stroke-opacity="0.22" stroke-width="1.8"/>
<polyline points="104.7,1259 137.3,1247.9 169.9,1258.4 202.5,1240.1 235.1,1282.1 267.7,1297.9 300.3,1294.2 332.9,1298.5 365.5,1304.4 398.1,1329 430.7,1331 463.3,1327.2 495.9,1326.3 528.5,1307 561.1,1302.9 593.7,1293.8 626.3,1261.8 658.9,1269.9 691.5,1255.3 724.1,1262.5 756.7,1271.6 789.3,1269.2 821.9,1250.9 854.5,1267.3 887.1,1261.4 919.7,1273.2 952.3,1279" fill="none" stroke="#add8e6" stroke-opacity="0.22" stroke-width="1.8"/>
<polyline points="104.7,1214.4 137.3,1212.7 169.9,1225.3 202.5,1205.7 235.1,1254.4 267.7,1265.3 300.3,1265.5 332.9,1286.3 365.5,1287.6 398.1,1308.9 430.7,1311.9 463.3,1306.4 495.9,1307.4 528.5,1288.9 561.1,1291 593.7,1247.4 626.3,1236.6 658.9,1250.5 691.5,1223.9 724.1,1237.2 756.7,1247.7 789.3,1242.8 821.9,1231.3 854.5,1224.4 887.1,1218.7 919.7,1241.2 952.3,1250" fill="none" stroke="#add8e6" stroke-opacity="0.22" stroke-width="1.8"/>
<polyline points="104.7,1216 137.3,1212.8 169.9,1220.9 202.5,1192.7 235.1,1252.7 267.7,1264.8 300.3,1261.4 332.9,1279.7 365.5,1285.3 398.1,1305.7 430.7,1310.7 463.3,1297.5 495.9,1303.7 528.5,1278.5 561.1,1289.9 593.7,1259.8 626.3,1244.7 658.9,1238.2 691.5,1224.6 724.1,1226 756.7,1240.2 789.3,1237 821.9,1217.6 854.5,1221 887.1,1224.9 919.7,1238.9 952.3,1251.7" fill="none" stroke="#add8e6" stroke-opacity="0.22" stroke-width="1.8"/>
<polyline points="104.7,1238 137.3,1228.6 169.9,1249 202.5,1224.7 235.1,1274 267.7,1293 300.3,1287.6 332.9,1305.4 365.5,1305 398.1,1325.1 430.7,1327 463.3,1322.2 495.9,1317.3 528.5,1306.2 561.1,1305.4 593.7,1277 626.3,1264.3 658.9,1259.8 691.5,1263 724.1,1264.2 756.7,1266.9 789.3,1256.9 821.9,1258.6 854.5,1264.4 887.1,1255.6 919.7,1267.7 952.3,1281.3" fill="none" stroke="#add8e6" stroke-opacity="0.22" stroke-width="1.8"/>
<polyline points="104.7,1221.6 137.3,1216.1 169.9,1219.6 202.5,1203 235.1,1257 267.7,1276.7 300.3,1272.7 332.9,1274.1 365.5,1279 398.1,1307.8 430.7,1310.3 463.3,1300.9 495.9,1301.8 528.5,1283.1 561.1,1283 593.7,1257.8 626.3,1242 658.9,1235.1 691.5,1226.9 724.1,1230.1 756.7,1240.8 789.3,1252 821.9,1220.1 854.5,1241.4 887.1,1221.3 919.7,1241 952.3,1257.1" fill="none" stroke="#add8e6" stroke-opacity="0.22" stroke-width="1.8"/>
<polyline points="104.7,1205.8 137.3,1203.9 169.9,1214.5 202.5,1184.9 235.1,1246.2 267.7,1260.8 300.3,1259.6 332.9,1273.5 365.5,1279.2 398.1,1302.5 430.7,1305.5 463.3,1297.9 495.9,1301.2 528.5,1275.5 561.1,1280.7 593.7,1252.3 626.3,1226.1 658.9,1223.2 691.5,1220.2 724.1,1226.1 756.7,1231.9 789.3,1232.8 821.9,1210.7 854.5,1220.9 887.1,1214 919.7,1232.2 952.3,1244.4" fill="none" stroke="#add8e6" stroke-opacity="0.30" stroke-width="2"/>
<polyline points="104.7,1266.2 137.3,1265.1 169.9,1273.3 202.5,1253.6 235.1,1295.8 267.7,1305.2 300.3,1304.3 332.9,1313.8 365.5,1318.2 398.1,1334.6 430.7,1336.5 463.3,1331.1 495.9,1333.9 528.5,1316 561.1,1319.7 593.7,1298.9 626.3,1281.1 658.9,1278.4 691.5,1276.5 724.1,1280.4 756.7,1284.6 789.3,1285.7 821.9,1270.5 854.5,1277.2 887.1,1272.6 919.7,1284.8 952.3,1293.6" fill="none" stroke="#add8e6" stroke-opacity="0.26" stroke-width="2"/>
<polyline points="104.7,1204.2 137.3,1201.8 169.9,1212.9 202.5,1180.3 235.1,1244.6 267.7,1259.2 300.3,1257.4 332.9,1271.9 365.5,1277 398.1,1300.9 430.7,1303.9 463.3,1295.9 495.9,1299.6 528.5,1272.7 561.1,1279.1 593.7,1250.6 626.3,1223.6 658.9,1221.6 691.5,1218.3 724.1,1224.5 756.7,1230.3 789.3,1231.2 821.9,1207.9 854.5,1219.3 887.1,1211.4 919.7,1230.6 952.3,1242.8" fill="none" stroke="#add8e6" stroke-opacity="0.25" stroke-width="2"/>
<polyline points="104.7,1267.5 137.3,1266.4 169.9,1275.7 202.5,1254.9 235.1,1298.4 267.7,1306.9 300.3,1305.6 332.9,1315.3 365.5,1319.5 398.1,1336.5 430.7,1338.1 463.3,1332.4 495.9,1336 528.5,1317.2 561.1,1322 593.7,1300.2 626.3,1282.4 658.9,1279.7 691.5,1277.8 724.1,1281.7 756.7,1286 789.3,1287.7 821.9,1271.8 854.5,1279 887.1,1273.9 919.7,1286.3 952.3,1295.3" fill="none" stroke="#add8e6" stroke-opacity="0.21" stroke-width="2"/>
<polyline points="104.7,1202.6 137.3,1199.7 169.9,1211.3 202.5,1175.7 235.1,1243 267.7,1257.6 300.3,1255.2 332.9,1270.3 365.5,1274.7 398.1,1299.3 430.7,1302.3 463.3,1293.9 495.9,1298 528.5,1269.9 561.1,1277.5 593.7,1248.9 626.3,1221.1 658.9,1220 691.5,1216.3 724.1,1222.9 756.7,1228.7 789.3,1229.6 821.9,1205 854.5,1217.7 887.1,1208.8 919.7,1229 952.3,1241.2" fill="none" stroke="#add8e6" stroke-opacity="0.21" stroke-width="2"/>
<polyline points="104.7,1268.8 137.3,1267.7 169.9,1278.1 202.5,1256.2 235.1,1301 267.7,1308.7 300.3,1306.9 332.9,1316.8 365.5,1320.8 398.1,1338.4 430.7,1339.7 463.3,1333.7 495.9,1338.1 528.5,1318.6 561.1,1324.2 593.7,1301.5 626.3,1283.7 658.9,1281 691.5,1279.1 724.1,1283 756.7,1287.5 789.3,1289.6 821.9,1273.1 854.5,1280.7 887.1,1275.2 919.7,1287.7 952.3,1297" fill="none" stroke="#add8e6" stroke-opacity="0.16" stroke-width="2"/>
<polyline points="691.5,1222 724.1,1226 756.7,1210 789.3,1214 821.9,1167 854.5,1208 887.1,1178 919.7,1222 952.3,1232" fill="none" stroke="#cfe6f1" stroke-opacity="0.55" stroke-width="1.8"/>
<polyline points="724.1,1222 756.7,1222 789.3,1224 821.9,1190 854.5,1212 887.1,1196 919.7,1218 952.3,1236" fill="none" stroke="#cfe6f1" stroke-opacity="0.55" stroke-width="1.8"/>
<polyline points="104.7,1196 137.3,1180 169.9,1202 202.5,1160 235.1,1232 267.7,1258" fill="none" stroke="#cfe6f1" stroke-opacity="0.55" stroke-width="1.8"/>
<g filter="url(#soft2)">
<polygon points="104.7,1208.1 137.3,1206.7 169.9,1216.8 202.5,1190.2 235.1,1248.5 267.7,1263.1 300.3,1262.5 332.9,1275.8 365.5,1282.2 398.1,1304.8 430.7,1307.8 463.3,1300.7 495.9,1303.5 528.5,1279 561.1,1283 593.7,1254.7 626.3,1229.3 658.9,1225.6 691.5,1222.9 724.1,1228.4 756.7,1234.2 789.3,1235.1 821.9,1214.3 854.5,1223.2 887.1,1217.2 919.7,1234.5 952.3,1246.7 952.3,1290.7 919.7,1282.1 887.1,1270 854.5,1274.2 821.9,1267.9 789.3,1282.5 756.7,1281.8 724.1,1277.8 691.5,1273.9 658.9,1275.8 626.3,1278.5 593.7,1296.3 561.1,1316.2 528.5,1313.3 495.9,1330.5 463.3,1328.5 430.7,1333.6 398.1,1331.4 365.5,1315.6 332.9,1311 300.3,1301.7 267.7,1302.1 235.1,1291.9 202.5,1251 169.9,1269.6 137.3,1262.5 104.7,1263.5" fill="#8a98f0" fill-opacity="0.35"/>
<polygon points="104.7,1210.2 137.3,1208.8 169.9,1218.9 202.5,1192.3 235.1,1250.6 267.7,1265.2 300.3,1264.6 332.9,1277.9 365.5,1284.3 398.1,1306.9 430.7,1309.9 463.3,1302.8 495.9,1305.6 528.5,1281.2 561.1,1285.1 593.7,1256.8 626.3,1231.4 658.9,1227.7 691.5,1225 724.1,1230.5 756.7,1236.3 789.3,1237.2 821.9,1216.4 854.5,1225.3 887.1,1219.3 919.7,1236.6 952.3,1248.8 952.3,1288.6 919.7,1280 887.1,1267.9 854.5,1272.1 821.9,1265.8 789.3,1280.4 756.7,1279.7 724.1,1275.7 691.5,1271.8 658.9,1273.7 626.3,1276.4 593.7,1294.2 561.1,1314.1 528.5,1311.2 495.9,1328.4 463.3,1326.4 430.7,1331.5 398.1,1329.3 365.5,1313.5 332.9,1308.9 300.3,1299.6 267.7,1300 235.1,1289.8 202.5,1248.9 169.9,1267.5 137.3,1260.4 104.7,1261.4" fill="#a5cfe3" fill-opacity="1"/>
</g>
<line x1="495.3" y1="862.5" x2="495.3" y2="1375" stroke="#a2a2a2" stroke-width="1.9" stroke-dasharray="7.3 3.15"/>
<line x1="593.1" y1="862.5" x2="593.1" y2="1375" stroke="#a2a2a2" stroke-width="1.9" stroke-dasharray="7.3 3.15"/>
<line x1="690.9" y1="862.5" x2="690.9" y2="1375" stroke="#a2a2a2" stroke-width="1.9" stroke-dasharray="7.3 3.15"/>
<line x1="756.1" y1="862.5" x2="756.1" y2="1375" stroke="#a2a2a2" stroke-width="1.9" stroke-dasharray="7.3 3.15"/>
<line x1="821.3" y1="862.5" x2="821.3" y2="1375" stroke="#a2a2a2" stroke-width="1.9" stroke-dasharray="7.3 3.15"/>
<text transform="translate(488.8,1150.5) rotate(-90)" font-family="'Liberation Sans', Arial, Helvetica, sans-serif" font-size="19.9" text-anchor="start" fill="#c1c1c1" stroke="#c1c1c1" stroke-width="0.2">Phase 1 (Mar. 25)</text>
<text transform="translate(586.6,1150.5) rotate(-90)" font-family="'Liberation Sans', Arial, Helvetica, sans-serif" font-size="19.9" text-anchor="start" fill="#c1c1c1" stroke="#c1c1c1" stroke-width="0.2">Phase 2 (Apr. 15)</text>
<text transform="translate(684.4,1150.5) rotate(-90)" font-family="'Liberation Sans', Arial, Helvetica, sans-serif" font-size="19.9" text-anchor="start" fill="#c1c1c1" stroke="#c1c1c1" stroke-width="0.2">Phase 3 (May 4)</text>
<text transform="translate(749.6,1150.5) rotate(-90)" font-family="'Liberation Sans', Arial, Helvetica, sans-serif" font-size="19.9" text-anchor="start" fill="#c1c1c1" stroke="#c1c1c1" stroke-width="0.2">Phase 4 (May 18)</text>
<text transform="translate(814.8,1150.5) rotate(-90)" font-family="'Liberation Sans', Arial, Helvetica, sans-serif" font-size="19.9" text-anchor="start" fill="#c1c1c1" stroke="#c1c1c1" stroke-width="0.2">Phase 5 (Jun. 1)</text>
<polyline points="104.7,1236.6 137.3,1235.4 169.9,1244 202.5,1221.4 235.1,1271 267.7,1283.4 300.3,1282.9 332.9,1294.2 365.5,1299.7 398.1,1318.9 430.7,1321.5 463.3,1315.4 495.9,1317.8 528.5,1297 561.1,1300.4 593.7,1276.3 626.3,1254.7 658.9,1251.5 691.5,1249.2 724.1,1253.9 756.7,1258.8 789.3,1259.6 821.9,1241.9 854.5,1249.5 887.1,1244.4 919.7,1259.1 952.3,1269.5" fill="none" stroke="#0000ff" stroke-width="2.2" stroke-linejoin="round"/>
<path d="M101.2 1240.4Q104.7 1244.6 108.2 1240.4" fill="none" stroke="#0000ff" stroke-width="1.7" stroke-opacity="0.85"/>
<ellipse cx="104.7" cy="1236.6" rx="4.5" ry="4.2" fill="#0000ff"/>
<path d="M133.8 1239.2Q137.3 1243.4 140.8 1239.2" fill="none" stroke="#0000ff" stroke-width="1.7" stroke-opacity="0.85"/>
<ellipse cx="137.3" cy="1235.4" rx="4.5" ry="4.2" fill="#0000ff"/>
<path d="M166.4 1247.8Q169.9 1252 173.4 1247.8" fill="none" stroke="#0000ff" stroke-width="1.7" stroke-opacity="0.85"/>
<ellipse cx="169.9" cy="1244" rx="4.5" ry="4.2" fill="#0000ff"/>
<path d="M199 1225.2Q202.5 1229.4 206 1225.2" fill="none" stroke="#0000ff" stroke-width="1.7" stroke-opacity="0.85"/>
<ellipse cx="202.5" cy="1221.4" rx="4.5" ry="4.2" fill="#0000ff"/>
<path d="M231.6 1274.8Q235.1 1279 238.6 1274.8" fill="none" stroke="#0000ff" stroke-width="1.7" stroke-opacity="0.85"/>
<ellipse cx="235.1" cy="1271" rx="4.5" ry="4.2" fill="#0000ff"/>
<path d="M264.2 1287.2Q267.7 1291.4 271.2 1287.2" fill="none" stroke="#0000ff" stroke-width="1.7" stroke-opacity="0.85"/>
<ellipse cx="267.7" cy="1283.4" rx="4.5" ry="4.2" fill="#0000ff"/>
<path d="M296.8 1286.7Q300.3 1290.9 303.8 1286.7" fill="none" stroke="#0000ff" stroke-width="1.7" stroke-opacity="0.85"/>
<ellipse cx="300.3" cy="1282.9" rx="4.5" ry="4.2" fill="#0000ff"/>
<path d="M329.4 1298Q332.9 1302.2 336.4 1298" fill="none" stroke="#0000ff" stroke-width="1.7" stroke-opacity="0.85"/>
<ellipse cx="332.9" cy="1294.2" rx="4.5" ry="4.2" fill="#0000ff"/>
<path d="M362 1303.5Q365.5 1307.7 369 1303.5" fill="none" stroke="#0000ff" stroke-width="1.7" stroke-opacity="0.85"/>
<ellipse cx="365.5" cy="1299.7" rx="4.5" ry="4.2" fill="#0000ff"/>
<path d="M394.6 1322.7Q398.1 1326.9 401.6 1322.7" fill="none" stroke="#0000ff" stroke-width="1.7" stroke-opacity="0.85"/>
<ellipse cx="398.1" cy="1318.9" rx="4.5" ry="4.2" fill="#0000ff"/>
<path d="M427.2 1325.3Q430.7 1329.5 434.2 1325.3" fill="none" stroke="#0000ff" stroke-width="1.7" stroke-opacity="0.85"/>
<ellipse cx="430.7" cy="1321.5" rx="4.5" ry="4.2" fill="#0000ff"/>
<path d="M459.8 1319.2Q463.3 1323.4 466.8 1319.2" fill="none" stroke="#0000ff" stroke-width="1.7" stroke-opacity="0.85"/>
<ellipse cx="463.3" cy="1315.4" rx="4.5" ry="4.2" fill="#0000ff"/>
<path d="M492.4 1321.6Q495.9 1325.8 499.4 1321.6" fill="none" stroke="#0000ff" stroke-width="1.7" stroke-opacity="0.85"/>
<ellipse cx="495.9" cy="1317.8" rx="4.5" ry="4.2" fill="#0000ff"/>
<path d="M525 1300.8Q528.5 1305 532 1300.8" fill="none" stroke="#0000ff" stroke-width="1.7" stroke-opacity="0.85"/>
<ellipse cx="528.5" cy="1297" rx="4.5" ry="4.2" fill="#0000ff"/>
<path d="M557.6 1304.2Q561.1 1308.4 564.6 1304.2" fill="none" stroke="#0000ff" stroke-width="1.7" stroke-opacity="0.85"/>
<ellipse cx="561.1" cy="1300.4" rx="4.5" ry="4.2" fill="#0000ff"/>
<path d="M590.2 1280.1Q593.7 1284.3 597.2 1280.1" fill="none" stroke="#0000ff" stroke-width="1.7" stroke-opacity="0.85"/>
<ellipse cx="593.7" cy="1276.3" rx="4.5" ry="4.2" fill="#0000ff"/>
<path d="M622.8 1258.5Q626.3 1262.7 629.8 1258.5" fill="none" stroke="#0000ff" stroke-width="1.7" stroke-opacity="0.85"/>
<ellipse cx="626.3" cy="1254.7" rx="4.5" ry="4.2" fill="#0000ff"/>
<path d="M655.4 1255.3Q658.9 1259.5 662.4 1255.3" fill="none" stroke="#0000ff" stroke-width="1.7" stroke-opacity="0.85"/>
<ellipse cx="658.9" cy="1251.5" rx="4.5" ry="4.2" fill="#0000ff"/>
<path d="M688 1253Q691.5 1257.2 695 1253" fill="none" stroke="#0000ff" stroke-width="1.7" stroke-opacity="0.85"/>
<ellipse cx="691.5" cy="1249.2" rx="4.5" ry="4.2" fill="#0000ff"/>
<path d="M720.6 1257.7Q724.1 1261.9 727.6 1257.7" fill="none" stroke="#0000ff" stroke-width="1.7" stroke-opacity="0.85"/>
<ellipse cx="724.1" cy="1253.9" rx="4.5" ry="4.2" fill="#0000ff"/>
<path d="M753.2 1262.6Q756.7 1266.8 760.2 1262.6" fill="none" stroke="#0000ff" stroke-width="1.7" stroke-opacity="0.85"/>
<ellipse cx="756.7" cy="1258.8" rx="4.5" ry="4.2" fill="#0000ff"/>
<path d="M785.8 1263.4Q789.3 1267.6 792.8 1263.4" fill="none" stroke="#0000ff" stroke-width="1.7" stroke-opacity="0.85"/>
<ellipse cx="789.3" cy="1259.6" rx="4.5" ry="4.2" fill="#0000ff"/>
<path d="M818.4 1245.7Q821.9 1249.9 825.4 1245.7" fill="none" stroke="#0000ff" stroke-width="1.7" stroke-opacity="0.85"/>
<ellipse cx="821.9" cy="1241.9" rx="4.5" ry="4.2" fill="#0000ff"/>
<path d="M851 1253.3Q854.5 1257.5 858 1253.3" fill="none" stroke="#0000ff" stroke-width="1.7" stroke-opacity="0.85"/>
<ellipse cx="854.5" cy="1249.5" rx="4.5" ry="4.2" fill="#0000ff"/>
<path d="M883.6 1248.2Q887.1 1252.4 890.6 1248.2" fill="none" stroke="#0000ff" stroke-width="1.7" stroke-opacity="0.85"/>
<ellipse cx="887.1" cy="1244.4" rx="4.5" ry="4.2" fill="#0000ff"/>
<path d="M916.2 1262.9Q919.7 1267.1 923.2 1262.9" fill="none" stroke="#0000ff" stroke-width="1.7" stroke-opacity="0.85"/>
<ellipse cx="919.7" cy="1259.1" rx="4.5" ry="4.2" fill="#0000ff"/>
<path d="M948.8 1273.3Q952.3 1277.5 955.8 1273.3" fill="none" stroke="#0000ff" stroke-width="1.7" stroke-opacity="0.85"/>
<ellipse cx="952.3" cy="1269.5" rx="4.5" ry="4.2" fill="#0000ff"/>
<polyline points="104.7,1163.8 137.3,1223 169.9,1270.9 202.5,1197.2 235.1,1281.2 267.7,1242.8 300.3,1252.6 332.9,1248.8 365.5,1286 398.1,1286.8 430.7,1320.7 463.3,1334.8 495.9,1312.7 528.5,1345.5 561.1,1328.7 593.7,1322.8 626.3,1239.6 658.9,1276.7 691.5,1271.9 724.1,1277.9 756.7,1274.3 789.3,1267.5 821.9,1264.7 854.5,1247.1 887.1,1209.9 919.7,1295.6 952.3,1244.7" fill="none" stroke="#f40808" stroke-width="2.5" stroke-linejoin="round"/>
<ellipse cx="104.7" cy="1163.8" rx="5.1" ry="4.8" fill="#ff0000"/>
<ellipse cx="137.3" cy="1223" rx="5.1" ry="4.8" fill="#ff0000"/>
<ellipse cx="169.9" cy="1270.9" rx="5.1" ry="4.8" fill="#ff0000"/>
<ellipse cx="202.5" cy="1197.2" rx="5.1" ry="4.8" fill="#ff0000"/>
<ellipse cx="235.1" cy="1281.2" rx="5.1" ry="4.8" fill="#ff0000"/>
<ellipse cx="267.7" cy="1242.8" rx="5.1" ry="4.8" fill="#ff0000"/>
<ellipse cx="300.3" cy="1252.6" rx="5.1" ry="4.8" fill="#ff0000"/>
<ellipse cx="332.9" cy="1248.8" rx="5.1" ry="4.8" fill="#ff0000"/>
<ellipse cx="365.5" cy="1286" rx="5.1" ry="4.8" fill="#ff0000"/>
<ellipse cx="398.1" cy="1286.8" rx="5.1" ry="4.8" fill="#ff0000"/>
<ellipse cx="430.7" cy="1320.7" rx="5.1" ry="4.8" fill="#7d00a5"/>
<ellipse cx="463.3" cy="1334.8" rx="5.1" ry="4.8" fill="#ff0000"/>
<ellipse cx="495.9" cy="1312.7" rx="5.1" ry="4.8" fill="#ff0000"/>
<ellipse cx="528.5" cy="1345.5" rx="5.1" ry="4.8" fill="#ff0000"/>
<ellipse cx="561.1" cy="1328.7" rx="5.1" ry="4.8" fill="#ff0000"/>
<ellipse cx="593.7" cy="1322.8" rx="5.1" ry="4.8" fill="#ff0000"/>
<ellipse cx="626.3" cy="1239.6" rx="5.1" ry="4.8" fill="#ff0000"/>
<ellipse cx="658.9" cy="1276.7" rx="5.1" ry="4.8" fill="#ff0000"/>
<ellipse cx="691.5" cy="1271.9" rx="5.1" ry="4.8" fill="#ff0000"/>
<ellipse cx="724.1" cy="1277.9" rx="5.1" ry="4.8" fill="#ff0000"/>
<ellipse cx="756.7" cy="1274.3" rx="5.1" ry="4.8" fill="#ff0000"/>
<ellipse cx="789.3" cy="1267.5" rx="5.1" ry="4.8" fill="#ff0000"/>
<ellipse cx="821.9" cy="1264.7" rx="5.1" ry="4.8" fill="#ff0000"/>
<ellipse cx="854.5" cy="1247.1" rx="5.1" ry="4.8" fill="#ff0000"/>
<ellipse cx="887.1" cy="1209.9" rx="5.1" ry="4.8" fill="#ff0000"/>
<ellipse cx="919.7" cy="1295.6" rx="5.1" ry="4.8" fill="#ff0000"/>
<ellipse cx="952.3" cy="1244.7" rx="5.1" ry="4.8" fill="#ff0000"/>
</g>
<rect x="493.7" y="876" width="446.3" height="77.5" rx="4" ry="4" fill="#ffffff" fill-opacity="0.8" stroke="#d0d0d0" stroke-width="1.4"/>
<line x1="501.7" y1="894.7" x2="557.5" y2="894.7" stroke="#0000ff" stroke-width="2.2"/>
<ellipse cx="530.7" cy="894.7" rx="5" ry="4.6" fill="#0000ff"/>
<line x1="501.7" y1="928.9" x2="557.5" y2="928.9" stroke="#add8e6" stroke-width="2"/>
<rect x="742.5" y="885" width="55" height="18.7" fill="#7f7fff"/>
<line x1="742.5" y1="928.9" x2="797.5" y2="928.9" stroke="#ff9c9c" stroke-width="1.8"/>
<line x1="770" y1="918" x2="770" y2="941.7" stroke="#ff9c9c" stroke-width="1.8"/>
<ellipse cx="770" cy="928.9" rx="4.6" ry="4.3" fill="#ff8585"/>
<text transform="translate(578.5,903.1)" font-family="'Liberation Sans', Arial, Helvetica, sans-serif" font-size="26.4" text-anchor="start" fill="#262626" stroke="#262626" stroke-width="0.25">expected</text>
<text transform="translate(578.5,938.1)" font-family="'Liberation Sans', Arial, Helvetica, sans-serif" font-size="26.4" text-anchor="start" fill="#262626" stroke="#262626" stroke-width="0.25">bootstrap</text>
<text transform="translate(825,903.1)" font-family="'Liberation Sans', Arial, Helvetica, sans-serif" font-size="26.4" text-anchor="start" fill="#262626" stroke="#262626" stroke-width="0.25">95% CI</text>
<text transform="translate(819.5,938.1)" font-family="'Liberation Sans', Arial, Helvetica, sans-serif" font-size="26.4" text-anchor="start" fill="#262626" stroke="#262626" stroke-width="0.25">observed</text>
<rect x="104.7" y="862.5" width="847.4" height="512.5" fill="none" stroke="#333333" stroke-width="2.1"/>
<line x1="96.4" y1="1375" x2="104.7" y2="1375" stroke="#333333" stroke-width="1.7"/>
<text transform="translate(89.4,1384.4)" font-family="'Liberation Sans', Arial, Helvetica, sans-serif" font-size="26.5" text-anchor="end" fill="#262626" stroke="#262626" stroke-width="0.25">0.0</text>
<line x1="96.4" y1="1306.7" x2="104.7" y2="1306.7" stroke="#333333" stroke-width="1.7"/>
<text transform="translate(89.4,1316.1)" font-family="'Liberation Sans', Arial, Helvetica, sans-serif" font-size="26.5" text-anchor="end" fill="#262626" stroke="#262626" stroke-width="0.25">0.2</text>
<line x1="96.4" y1="1238.4" x2="104.7" y2="1238.4" stroke="#333333" stroke-width="1.7"/>
<text transform="translate(89.4,1247.8)" font-family="'Liberation Sans', Arial, Helvetica, sans-serif" font-size="26.5" text-anchor="end" fill="#262626" stroke="#262626" stroke-width="0.25">0.4</text>
<line x1="96.4" y1="1170.1" x2="104.7" y2="1170.1" stroke="#333333" stroke-width="1.7"/>
<text transform="translate(89.4,1179.5)" font-family="'Liberation Sans', Arial, Helvetica, sans-serif" font-size="26.5" text-anchor="end" fill="#262626" stroke="#262626" stroke-width="0.25">0.6</text>
<line x1="96.4" y1="1101.8" x2="104.7" y2="1101.8" stroke="#333333" stroke-width="1.7"/>
<text transform="translate(89.4,1111.2)" font-family="'Liberation Sans', Arial, Helvetica, sans-serif" font-size="26.5" text-anchor="end" fill="#262626" stroke="#262626" stroke-width="0.25">0.8</text>
<line x1="96.4" y1="1033.5" x2="104.7" y2="1033.5" stroke="#333333" stroke-width="1.7"/>
<text transform="translate(89.4,1042.9)" font-family="'Liberation Sans', Arial, Helvetica, sans-serif" font-size="26.5" text-anchor="end" fill="#262626" stroke="#262626" stroke-width="0.25">1.0</text>
<line x1="96.4" y1="965.2" x2="104.7" y2="965.2" stroke="#333333" stroke-width="1.7"/>
<text transform="translate(89.4,974.6)" font-family="'Liberation Sans', Arial, Helvetica, sans-serif" font-size="26.5" text-anchor="end" fill="#262626" stroke="#262626" stroke-width="0.25">1.2</text>
<line x1="96.4" y1="896.9" x2="104.7" y2="896.9" stroke="#333333" stroke-width="1.7"/>
<text transform="translate(89.4,906.3)" font-family="'Liberation Sans', Arial, Helvetica, sans-serif" font-size="26.5" text-anchor="end" fill="#262626" stroke="#262626" stroke-width="0.25">1.4</text>
<line x1="137.3" y1="1375" x2="137.3" y2="1383" stroke="#333333" stroke-width="1.7"/>
<text transform="translate(136.7,1407.1)" font-family="'Liberation Sans', Arial, Helvetica, sans-serif" font-size="26.5" text-anchor="middle" fill="#262626" stroke="#262626" stroke-width="0.25">2</text>
<line x1="202.5" y1="1375" x2="202.5" y2="1383" stroke="#333333" stroke-width="1.7"/>
<text transform="translate(201.9,1407.1)" font-family="'Liberation Sans', Arial, Helvetica, sans-serif" font-size="26.5" text-anchor="middle" fill="#262626" stroke="#262626" stroke-width="0.25">4</text>
<line x1="267.7" y1="1375" x2="267.7" y2="1383" stroke="#333333" stroke-width="1.7"/>
<text transform="translate(267.1,1407.1)" font-family="'Liberation Sans', Arial, Helvetica, sans-serif" font-size="26.5" text-anchor="middle" fill="#262626" stroke="#262626" stroke-width="0.25">6</text>
<line x1="332.9" y1="1375" x2="332.9" y2="1383" stroke="#333333" stroke-width="1.7"/>
<text transform="translate(332.3,1407.1)" font-family="'Liberation Sans', Arial, Helvetica, sans-serif" font-size="26.5" text-anchor="middle" fill="#262626" stroke="#262626" stroke-width="0.25">8</text>
<line x1="398.1" y1="1375" x2="398.1" y2="1383" stroke="#333333" stroke-width="1.7"/>
<text transform="translate(397.5,1407.1)" font-family="'Liberation Sans', Arial, Helvetica, sans-serif" font-size="26.5" text-anchor="middle" fill="#262626" stroke="#262626" stroke-width="0.25">10</text>
<line x1="463.3" y1="1375" x2="463.3" y2="1383" stroke="#333333" stroke-width="1.7"/>
<text transform="translate(462.7,1407.1)" font-family="'Liberation Sans', Arial, Helvetica, sans-serif" font-size="26.5" text-anchor="middle" fill="#262626" stroke="#262626" stroke-width="0.25">12</text>
<line x1="528.5" y1="1375" x2="528.5" y2="1383" stroke="#333333" stroke-width="1.7"/>
<text transform="translate(527.9,1407.1)" font-family="'Liberation Sans', Arial, Helvetica, sans-serif" font-size="26.5" text-anchor="middle" fill="#262626" stroke="#262626" stroke-width="0.25">14</text>
<line x1="593.7" y1="1375" x2="593.7" y2="1383" stroke="#333333" stroke-width="1.7"/>
<text transform="translate(593.1,1407.1)" font-family="'Liberation Sans', Arial, Helvetica, sans-serif" font-size="26.5" text-anchor="middle" fill="#262626" stroke="#262626" stroke-width="0.25">16</text>
<line x1="658.9" y1="1375" x2="658.9" y2="1383" stroke="#333333" stroke-width="1.7"/>
<text transform="translate(658.3,1407.1)" font-family="'Liberation Sans', Arial, Helvetica, sans-serif" font-size="26.5" text-anchor="middle" fill="#262626" stroke="#262626" stroke-width="0.25">18</text>
<line x1="724.1" y1="1375" x2="724.1" y2="1383" stroke="#333333" stroke-width="1.7"/>
<text transform="translate(723.5,1407.1)" font-family="'Liberation Sans', Arial, Helvetica, sans-serif" font-size="26.5" text-anchor="middle" fill="#262626" stroke="#262626" stroke-width="0.25">20</text>
<line x1="789.3" y1="1375" x2="789.3" y2="1383" stroke="#333333" stroke-width="1.7"/>
<text transform="translate(788.7,1407.1)" font-family="'Liberation Sans', Arial, Helvetica, sans-serif" font-size="26.5" text-anchor="middle" fill="#262626" stroke="#262626" stroke-width="0.25">22</text>
<line x1="854.5" y1="1375" x2="854.5" y2="1383" stroke="#333333" stroke-width="1.7"/>
<text transform="translate(853.9,1407.1)" font-family="'Liberation Sans', Arial, Helvetica, sans-serif" font-size="26.5" text-anchor="middle" fill="#262626" stroke="#262626" stroke-width="0.25">24</text>
<line x1="919.7" y1="1375" x2="919.7" y2="1383" stroke="#333333" stroke-width="1.7"/>
<text transform="translate(919.1,1407.1)" font-family="'Liberation Sans', Arial, Helvetica, sans-serif" font-size="26.5" text-anchor="middle" fill="#262626" stroke="#262626" stroke-width="0.25">26</text>
<text transform="translate(105.5,858)" font-family="'Liberation Sans', Arial, Helvetica, sans-serif" font-size="26.5" text-anchor="start" fill="#262626" stroke="#262626" stroke-width="0.25">1e16</text>
<text transform="translate(527.6,1437.7) scale(1.010,1)" font-family="'Liberation Sans', Arial, Helvetica, sans-serif" font-size="30" text-anchor="middle" fill="#262626" stroke="#262626" stroke-width="0.25">Week of year (2020)</text>
<text transform="translate(32.7,1119.5) rotate(-90)" font-family="'Liberation Sans', Arial, Helvetica, sans-serif" font-size="32.5" text-anchor="middle" fill="#262626" textLength="258.5" lengthAdjust="spacingAndGlyphs" stroke="#262626" stroke-width="0.25">NO<tspan font-size="22.7" dy="5.6">2</tspan><tspan dy="-5.6"> (molecule/cm</tspan><tspan font-size="22.7" dy="-11.8">2</tspan><tspan dy="11.8">)</tspan></text>
<clipPath id="clipb3"><rect x="1218.6" y="13.8" width="777.4" height="525.7"/></clipPath>
<g clip-path="url(#clipb3)">
<line x1="1576.3" y1="13.8" x2="1576.3" y2="539.5" stroke="#b6b6b6" stroke-width="1.9" stroke-dasharray="7.3 3.15"/>
<line x1="1666.1" y1="13.8" x2="1666.1" y2="539.5" stroke="#b6b6b6" stroke-width="1.9" stroke-dasharray="7.3 3.15"/>
<line x1="1755.9" y1="13.8" x2="1755.9" y2="539.5" stroke="#b6b6b6" stroke-width="1.9" stroke-dasharray="7.3 3.15"/>
<line x1="1815.7" y1="13.8" x2="1815.7" y2="539.5" stroke="#b6b6b6" stroke-width="1.9" stroke-dasharray="7.3 3.15"/>
<line x1="1875.5" y1="13.8" x2="1875.5" y2="539.5" stroke="#b6b6b6" stroke-width="1.9" stroke-dasharray="7.3 3.15"/>
<rect x="1207.1" y="138.4" width="22.3" height="137.7" fill="#7f7f7f"/>
<rect x="1237.1" y="253.5" width="22.3" height="22.5" fill="#7f7f7f"/>
<rect x="1267" y="277.8" width="22.3" height="48.7" fill="#7f7f7f"/>
<rect x="1296.9" y="233.8" width="22.3" height="42.2" fill="#7f7f7f"/>
<rect x="1326.8" y="277.8" width="22.3" height="20.9" fill="#7f7f7f"/>
<rect x="1356.8" y="157.6" width="22.3" height="118.5" fill="#7f7f7f"/>
<rect x="1386.7" y="186.2" width="22.3" height="89.8" fill="#7f7f7f"/>
<rect x="1416.6" y="123.1" width="22.3" height="152.9" fill="#7f7f7f"/>
<rect x="1446.5" y="224.6" width="22.3" height="51.4" fill="#7f7f7f"/>
<rect x="1476.4" y="110.3" width="22.3" height="165.8" fill="#7f7f7f"/>
<rect x="1506.3" y="268.8" width="22.3" height="7.3" fill="#7f7f7f"/>
<rect x="1536.3" y="277.8" width="22.3" height="86.9" fill="#7f7f7f"/>
<rect x="1566.2" y="247.7" width="22.3" height="28.3" fill="#7f7f7f"/>
<rect x="1596.1" y="277.8" width="22.3" height="161.8" fill="#7f7f7f"/>
<rect x="1626" y="277.8" width="22.3" height="94.7" fill="#7f7f7f"/>
<rect x="1655.9" y="277.8" width="22.3" height="122.3" fill="#7f7f7f"/>
<rect x="1685.9" y="240.6" width="22.3" height="35.4" fill="#7f7f7f"/>
<rect x="1715.8" y="277.8" width="22.3" height="50.8" fill="#7f7f7f"/>
<rect x="1745.7" y="277.8" width="22.3" height="44" fill="#7f7f7f"/>
<rect x="1775.6" y="277.8" width="22.3" height="47.7" fill="#7f7f7f"/>
<rect x="1805.5" y="277.8" width="22.3" height="29.8" fill="#7f7f7f"/>
<rect x="1835.5" y="277.8" width="22.3" height="10.9" fill="#7f7f7f"/>
<rect x="1865.4" y="277.8" width="22.3" height="41.6" fill="#7f7f7f"/>
<rect x="1895.3" y="270.6" width="22.3" height="5.4" fill="#7f7f7f"/>
<rect x="1925.2" y="206.5" width="22.3" height="69.6" fill="#7f7f7f"/>
<rect x="1955.1" y="277.8" width="22.3" height="77.1" fill="#7f7f7f"/>
<rect x="1985.1" y="211.2" width="22.3" height="64.8" fill="#7f7f7f"/>
<text transform="translate(1572.7,204.2) rotate(-90)" font-family="'Liberation Sans', Arial, Helvetica, sans-serif" font-size="19.7" text-anchor="start" fill="#c6c6c6" stroke="#c6c6c6" stroke-width="0.2">Phase 1 (Mar. 25)</text>
<text transform="translate(1662.5,204.2) rotate(-90)" font-family="'Liberation Sans', Arial, Helvetica, sans-serif" font-size="19.7" text-anchor="start" fill="#c6c6c6" stroke="#c6c6c6" stroke-width="0.2">Phase 2 (Apr. 15)</text>
<text transform="translate(1752.3,204.2) rotate(-90)" font-family="'Liberation Sans', Arial, Helvetica, sans-serif" font-size="19.7" text-anchor="start" fill="#c6c6c6" stroke="#c6c6c6" stroke-width="0.2">Phase 3 (May 4)</text>
<text transform="translate(1812.1,204.2) rotate(-90)" font-family="'Liberation Sans', Arial, Helvetica, sans-serif" font-size="19.7" text-anchor="start" fill="#c6c6c6" stroke="#c6c6c6" stroke-width="0.2">Phase 4 (May 18)</text>
<text transform="translate(1871.9,204.2) rotate(-90)" font-family="'Liberation Sans', Arial, Helvetica, sans-serif" font-size="19.7" text-anchor="start" fill="#c6c6c6" stroke="#c6c6c6" stroke-width="0.2">Phase 5 (Jun. 1)</text>
<path d="M1218.3 75.6V201M1205.7 75.6H1230.9M1205.7 201H1230.9" fill="none" stroke="#b0b0b0" stroke-width="1.75"/>
<path d="M1248.2 207V299.7M1235.6 207H1260.8M1235.6 299.7H1260.8" fill="none" stroke="#b0b0b0" stroke-width="1.75"/>
<path d="M1278.1 293.7V360.6M1265.5 293.7H1290.7M1265.5 360.6H1290.7" fill="none" stroke="#b0b0b0" stroke-width="1.75"/>
<path d="M1308.1 182.1V285.4M1295.5 182.1H1320.7M1295.5 285.4H1320.7" fill="none" stroke="#b0b0b0" stroke-width="1.75"/>
<path d="M1338 259.1V338.9M1325.4 259.1H1350.6M1325.4 338.9H1350.6" fill="none" stroke="#b0b0b0" stroke-width="1.75"/>
<path d="M1367.9 95V217.6M1355.3 95H1380.5M1355.3 217.6H1380.5" fill="none" stroke="#b0b0b0" stroke-width="1.75"/>
<path d="M1397.8 126.8V243.9M1385.2 126.8H1410.4M1385.2 243.9H1410.4" fill="none" stroke="#b0b0b0" stroke-width="1.75"/>
<path d="M1427.7 56.7V187.6M1415.1 56.7H1440.3M1415.1 187.6H1440.3" fill="none" stroke="#b0b0b0" stroke-width="1.75"/>
<path d="M1457.7 178.4V267.4M1445.1 178.4H1470.3M1445.1 267.4H1470.3" fill="none" stroke="#b0b0b0" stroke-width="1.75"/>
<path d="M1487.6 43.8V176.1M1475 43.8H1500.2M1475 176.1H1500.2" fill="none" stroke="#b0b0b0" stroke-width="1.75"/>
<path d="M1517.5 229.2V305.2M1504.9 229.2H1530.1M1504.9 305.2H1530.1" fill="none" stroke="#b0b0b0" stroke-width="1.75"/>
<path d="M1547.4 338V392.4M1534.8 338H1560M1534.8 392.4H1560" fill="none" stroke="#b0b0b0" stroke-width="1.75"/>
<path d="M1577.3 205.6V289.1M1564.7 205.6H1589.9M1564.7 289.1H1589.9" fill="none" stroke="#b0b0b0" stroke-width="1.75"/>
<path d="M1607.3 424.7V455.6M1594.7 424.7H1619.9M1594.7 455.6H1619.9" fill="none" stroke="#b0b0b0" stroke-width="1.75"/>
<path d="M1637.2 348.6V397M1624.6 348.6H1649.8M1624.6 397H1649.8" fill="none" stroke="#b0b0b0" stroke-width="1.75"/>
<path d="M1667.1 379.5V421.4M1654.5 379.5H1679.7M1654.5 421.4H1679.7" fill="none" stroke="#b0b0b0" stroke-width="1.75"/>
<path d="M1697 195V286.3M1684.4 195H1709.6M1684.4 286.3H1709.6" fill="none" stroke="#b0b0b0" stroke-width="1.75"/>
<path d="M1726.9 296V362M1714.3 296H1739.5M1714.3 362H1739.5" fill="none" stroke="#b0b0b0" stroke-width="1.75"/>
<path d="M1756.9 289.1V356.9M1744.3 289.1H1769.5M1744.3 356.9H1769.5" fill="none" stroke="#b0b0b0" stroke-width="1.75"/>
<path d="M1786.8 291.4V360.6M1774.2 291.4H1799.4M1774.2 360.6H1799.4" fill="none" stroke="#b0b0b0" stroke-width="1.75"/>
<path d="M1816.7 271.1V344M1804.1 271.1H1829.3M1804.1 344H1829.3" fill="none" stroke="#b0b0b0" stroke-width="1.75"/>
<path d="M1846.6 248.5V330.6M1834 248.5H1859.2M1834 330.6H1859.2" fill="none" stroke="#b0b0b0" stroke-width="1.75"/>
<path d="M1876.5 285.9V356M1863.9 285.9H1889.1M1863.9 356H1889.1" fill="none" stroke="#b0b0b0" stroke-width="1.75"/>
<path d="M1906.5 228.2V313.1M1893.9 228.2H1919.1M1893.9 313.1H1919.1" fill="none" stroke="#b0b0b0" stroke-width="1.75"/>
<path d="M1936.4 151.7V258.2M1923.8 151.7H1949M1923.8 258.2H1949" fill="none" stroke="#b0b0b0" stroke-width="1.75"/>
<path d="M1966.3 326.9V384.1M1953.7 326.9H1978.9M1953.7 384.1H1978.9" fill="none" stroke="#b0b0b0" stroke-width="1.75"/>
<path d="M1996.2 158.1V263.3M1983.6 158.1H2008.8M1983.6 263.3H2008.8" fill="none" stroke="#b0b0b0" stroke-width="1.75"/>
</g>
<rect x="1218.6" y="13.8" width="777.4" height="525.7" fill="none" stroke="#333333" stroke-width="2.0"/>
<line x1="1210.6" y1="13.8" x2="1218.6" y2="13.8" stroke="#333333" stroke-width="1.6"/>
<text transform="translate(1204.3,23)" font-family="'Liberation Sans', Arial, Helvetica, sans-serif" font-size="25.8" text-anchor="end" fill="#262626" stroke="#262626" stroke-width="0.25">1.00</text>
<line x1="1210.6" y1="79.5" x2="1218.6" y2="79.5" stroke="#333333" stroke-width="1.6"/>
<text transform="translate(1204.3,88.7)" font-family="'Liberation Sans', Arial, Helvetica, sans-serif" font-size="25.8" text-anchor="end" fill="#262626" stroke="#262626" stroke-width="0.25">0.75</text>
<line x1="1210.6" y1="145.2" x2="1218.6" y2="145.2" stroke="#333333" stroke-width="1.6"/>
<text transform="translate(1204.3,154.4)" font-family="'Liberation Sans', Arial, Helvetica, sans-serif" font-size="25.8" text-anchor="end" fill="#262626" stroke="#262626" stroke-width="0.25">0.50</text>
<line x1="1210.6" y1="210.9" x2="1218.6" y2="210.9" stroke="#333333" stroke-width="1.6"/>
<text transform="translate(1204.3,220.1)" font-family="'Liberation Sans', Arial, Helvetica, sans-serif" font-size="25.8" text-anchor="end" fill="#262626" stroke="#262626" stroke-width="0.25">0.25</text>
<line x1="1210.6" y1="276.6" x2="1218.6" y2="276.6" stroke="#333333" stroke-width="1.6"/>
<text transform="translate(1204.3,285.8)" font-family="'Liberation Sans', Arial, Helvetica, sans-serif" font-size="25.8" text-anchor="end" fill="#262626" stroke="#262626" stroke-width="0.25">0.00</text>
<line x1="1210.6" y1="342.4" x2="1218.6" y2="342.4" stroke="#333333" stroke-width="1.6"/>
<text transform="translate(1204.3,351.6)" font-family="'Liberation Sans', Arial, Helvetica, sans-serif" font-size="25.8" text-anchor="end" fill="#262626" stroke="#262626" stroke-width="0.25">−0.25</text>
<line x1="1210.6" y1="408.1" x2="1218.6" y2="408.1" stroke="#333333" stroke-width="1.6"/>
<text transform="translate(1204.3,417.3)" font-family="'Liberation Sans', Arial, Helvetica, sans-serif" font-size="25.8" text-anchor="end" fill="#262626" stroke="#262626" stroke-width="0.25">−0.50</text>
<line x1="1210.6" y1="473.8" x2="1218.6" y2="473.8" stroke="#333333" stroke-width="1.6"/>
<text transform="translate(1204.3,483)" font-family="'Liberation Sans', Arial, Helvetica, sans-serif" font-size="25.8" text-anchor="end" fill="#262626" stroke="#262626" stroke-width="0.25">−0.75</text>
<line x1="1210.6" y1="539.5" x2="1218.6" y2="539.5" stroke="#333333" stroke-width="1.6"/>
<text transform="translate(1204.3,548.7)" font-family="'Liberation Sans', Arial, Helvetica, sans-serif" font-size="25.8" text-anchor="end" fill="#262626" stroke="#262626" stroke-width="0.25">−1.00</text>
<line x1="1248.2" y1="539.5" x2="1248.2" y2="547.3" stroke="#333333" stroke-width="1.6"/>
<text transform="translate(1248.2,571.4)" font-family="'Liberation Sans', Arial, Helvetica, sans-serif" font-size="26.5" text-anchor="middle" fill="#262626" stroke="#262626" stroke-width="0.25">2</text>
<line x1="1308.1" y1="539.5" x2="1308.1" y2="547.3" stroke="#333333" stroke-width="1.6"/>
<text transform="translate(1308.1,571.4)" font-family="'Liberation Sans', Arial, Helvetica, sans-serif" font-size="26.5" text-anchor="middle" fill="#262626" stroke="#262626" stroke-width="0.25">4</text>
<line x1="1367.9" y1="539.5" x2="1367.9" y2="547.3" stroke="#333333" stroke-width="1.6"/>
<text transform="translate(1367.9,571.4)" font-family="'Liberation Sans', Arial, Helvetica, sans-serif" font-size="26.5" text-anchor="middle" fill="#262626" stroke="#262626" stroke-width="0.25">6</text>
<line x1="1427.7" y1="539.5" x2="1427.7" y2="547.3" stroke="#333333" stroke-width="1.6"/>
<text transform="translate(1427.7,571.4)" font-family="'Liberation Sans', Arial, Helvetica, sans-serif" font-size="26.5" text-anchor="middle" fill="#262626" stroke="#262626" stroke-width="0.25">8</text>
<line x1="1487.6" y1="539.5" x2="1487.6" y2="547.3" stroke="#333333" stroke-width="1.6"/>
<text transform="translate(1487.6,571.4)" font-family="'Liberation Sans', Arial, Helvetica, sans-serif" font-size="26.5" text-anchor="middle" fill="#262626" stroke="#262626" stroke-width="0.25">10</text>
<line x1="1547.4" y1="539.5" x2="1547.4" y2="547.3" stroke="#333333" stroke-width="1.6"/>
<text transform="translate(1547.4,571.4)" font-family="'Liberation Sans', Arial, Helvetica, sans-serif" font-size="26.5" text-anchor="middle" fill="#262626" stroke="#262626" stroke-width="0.25">12</text>
<line x1="1607.3" y1="539.5" x2="1607.3" y2="547.3" stroke="#333333" stroke-width="1.6"/>
<text transform="translate(1607.3,571.4)" font-family="'Liberation Sans', Arial, Helvetica, sans-serif" font-size="26.5" text-anchor="middle" fill="#262626" stroke="#262626" stroke-width="0.25">14</text>
<line x1="1667.1" y1="539.5" x2="1667.1" y2="547.3" stroke="#333333" stroke-width="1.6"/>
<text transform="translate(1667.1,571.4)" font-family="'Liberation Sans', Arial, Helvetica, sans-serif" font-size="26.5" text-anchor="middle" fill="#262626" stroke="#262626" stroke-width="0.25">16</text>
<line x1="1726.9" y1="539.5" x2="1726.9" y2="547.3" stroke="#333333" stroke-width="1.6"/>
<text transform="translate(1726.9,571.4)" font-family="'Liberation Sans', Arial, Helvetica, sans-serif" font-size="26.5" text-anchor="middle" fill="#262626" stroke="#262626" stroke-width="0.25">18</text>
<line x1="1786.8" y1="539.5" x2="1786.8" y2="547.3" stroke="#333333" stroke-width="1.6"/>
<text transform="translate(1786.8,571.4)" font-family="'Liberation Sans', Arial, Helvetica, sans-serif" font-size="26.5" text-anchor="middle" fill="#262626" stroke="#262626" stroke-width="0.25">20</text>
<line x1="1846.6" y1="539.5" x2="1846.6" y2="547.3" stroke="#333333" stroke-width="1.6"/>
<text transform="translate(1846.6,571.4)" font-family="'Liberation Sans', Arial, Helvetica, sans-serif" font-size="26.5" text-anchor="middle" fill="#262626" stroke="#262626" stroke-width="0.25">22</text>
<line x1="1906.5" y1="539.5" x2="1906.5" y2="547.3" stroke="#333333" stroke-width="1.6"/>
<text transform="translate(1906.5,571.4)" font-family="'Liberation Sans', Arial, Helvetica, sans-serif" font-size="26.5" text-anchor="middle" fill="#262626" stroke="#262626" stroke-width="0.25">24</text>
<line x1="1966.3" y1="539.5" x2="1966.3" y2="547.3" stroke="#333333" stroke-width="1.6"/>
<text transform="translate(1966.3,571.4)" font-family="'Liberation Sans', Arial, Helvetica, sans-serif" font-size="26.5" text-anchor="middle" fill="#262626" stroke="#262626" stroke-width="0.25">26</text>
<text transform="translate(1605.8,602)" font-family="'Liberation Sans', Arial, Helvetica, sans-serif" font-size="28.7" text-anchor="middle" fill="#262626" stroke="#262626" stroke-width="0.25">Week of year (2020)</text>
<text transform="translate(1127.3,278.2) rotate(-90)" font-family="'Liberation Sans', Arial, Helvetica, sans-serif" font-size="27.8" text-anchor="middle" fill="#262626" stroke="#262626" stroke-width="0.25">anomaly</text>
<clipPath id="clipb4"><rect x="1218.6" y="849.3" width="777.4" height="525.7"/></clipPath>
<g clip-path="url(#clipb4)">
<line x1="1576.3" y1="849.3" x2="1576.3" y2="1375" stroke="#b6b6b6" stroke-width="1.9" stroke-dasharray="7.3 3.15"/>
<line x1="1666.1" y1="849.3" x2="1666.1" y2="1375" stroke="#b6b6b6" stroke-width="1.9" stroke-dasharray="7.3 3.15"/>
<line x1="1755.9" y1="849.3" x2="1755.9" y2="1375" stroke="#b6b6b6" stroke-width="1.9" stroke-dasharray="7.3 3.15"/>
<line x1="1815.7" y1="849.3" x2="1815.7" y2="1375" stroke="#b6b6b6" stroke-width="1.9" stroke-dasharray="7.3 3.15"/>
<line x1="1875.5" y1="849.3" x2="1875.5" y2="1375" stroke="#b6b6b6" stroke-width="1.9" stroke-dasharray="7.3 3.15"/>
<rect x="1207.1" y="1035.9" width="22.3" height="75.6" fill="#7f7f7f"/>
<rect x="1237.1" y="1033.3" width="22.3" height="78.3" fill="#7f7f7f"/>
<rect x="1267" y="1104.8" width="22.3" height="6.8" fill="#7f7f7f"/>
<rect x="1296.9" y="1026.2" width="22.3" height="85.4" fill="#7f7f7f"/>
<rect x="1326.8" y="1113.4" width="22.3" height="49.5" fill="#7f7f7f"/>
<rect x="1356.8" y="1032" width="22.3" height="79.6" fill="#7f7f7f"/>
<rect x="1386.7" y="1113.4" width="22.3" height="5.6" fill="#7f7f7f"/>
<rect x="1416.6" y="1108.5" width="22.3" height="3.1" fill="#7f7f7f"/>
<rect x="1446.5" y="1057" width="22.3" height="54.6" fill="#7f7f7f"/>
<rect x="1476.4" y="1068" width="22.3" height="43.6" fill="#7f7f7f"/>
<rect x="1506.3" y="998.1" width="22.3" height="113.5" fill="#7f7f7f"/>
<rect x="1536.3" y="1111.6" width="22.3" height="0.8" fill="#7f7f7f"/>
<rect x="1566.2" y="1113.4" width="22.3" height="168.6" fill="#7f7f7f"/>
<rect x="1596.1" y="1113.4" width="22.3" height="155.7" fill="#7f7f7f"/>
<rect x="1626" y="1113.4" width="22.3" height="154.4" fill="#7f7f7f"/>
<rect x="1655.9" y="1113.4" width="22.3" height="87.1" fill="#7f7f7f"/>
<rect x="1685.9" y="1113.4" width="22.3" height="104.7" fill="#7f7f7f"/>
<rect x="1715.8" y="1113.4" width="22.3" height="56.6" fill="#7f7f7f"/>
<rect x="1745.7" y="1113.4" width="22.3" height="96.1" fill="#7f7f7f"/>
<rect x="1775.6" y="1113.4" width="22.3" height="61.4" fill="#7f7f7f"/>
<rect x="1805.5" y="1113.4" width="22.3" height="54.5" fill="#7f7f7f"/>
<rect x="1835.5" y="1113.4" width="22.3" height="85.3" fill="#7f7f7f"/>
<rect x="1865.4" y="1113.4" width="22.3" height="34.3" fill="#7f7f7f"/>
<rect x="1895.3" y="1083.2" width="22.3" height="28.3" fill="#7f7f7f"/>
<rect x="1925.2" y="1094.3" width="22.3" height="17.3" fill="#7f7f7f"/>
<rect x="1955.1" y="1113.4" width="22.3" height="38.8" fill="#7f7f7f"/>
<rect x="1985.1" y="1113.4" width="22.3" height="13.5" fill="#7f7f7f"/>
<text transform="translate(1572.7,1039.7) rotate(-90)" font-family="'Liberation Sans', Arial, Helvetica, sans-serif" font-size="19.7" text-anchor="start" fill="#c6c6c6" stroke="#c6c6c6" stroke-width="0.2">Phase 1 (Mar. 25)</text>
<text transform="translate(1662.5,1039.7) rotate(-90)" font-family="'Liberation Sans', Arial, Helvetica, sans-serif" font-size="19.7" text-anchor="start" fill="#c6c6c6" stroke="#c6c6c6" stroke-width="0.2">Phase 2 (Apr. 15)</text>
<text transform="translate(1752.3,1039.7) rotate(-90)" font-family="'Liberation Sans', Arial, Helvetica, sans-serif" font-size="19.7" text-anchor="start" fill="#c6c6c6" stroke="#c6c6c6" stroke-width="0.2">Phase 3 (May 4)</text>
<text transform="translate(1812.1,1039.7) rotate(-90)" font-family="'Liberation Sans', Arial, Helvetica, sans-serif" font-size="19.7" text-anchor="start" fill="#c6c6c6" stroke="#c6c6c6" stroke-width="0.2">Phase 4 (May 18)</text>
<text transform="translate(1871.9,1039.7) rotate(-90)" font-family="'Liberation Sans', Arial, Helvetica, sans-serif" font-size="19.7" text-anchor="start" fill="#c6c6c6" stroke="#c6c6c6" stroke-width="0.2">Phase 5 (Jun. 1)</text>
<path d="M1218.3 995.2V1074.4M1205.7 995.2H1230.9M1205.7 1074.4H1230.9" fill="none" stroke="#b0b0b0" stroke-width="1.75"/>
<path d="M1248.2 995.2V1069.8M1235.6 995.2H1260.8M1235.6 1069.8H1260.8" fill="none" stroke="#b0b0b0" stroke-width="1.75"/>
<path d="M1278.1 1071.6V1135.2M1265.5 1071.6H1290.7M1265.5 1135.2H1290.7" fill="none" stroke="#b0b0b0" stroke-width="1.75"/>
<path d="M1308.1 984.6V1065.7M1295.5 984.6H1320.7M1295.5 1065.7H1320.7" fill="none" stroke="#b0b0b0" stroke-width="1.75"/>
<path d="M1338 1137.9V1189.5M1325.4 1137.9H1350.6M1325.4 1189.5H1350.6" fill="none" stroke="#b0b0b0" stroke-width="1.75"/>
<path d="M1367.9 988.3V1074.4M1355.3 988.3H1380.5M1355.3 1074.4H1380.5" fill="none" stroke="#b0b0b0" stroke-width="1.75"/>
<path d="M1397.8 1088.2V1150.4M1385.2 1088.2H1410.4M1385.2 1150.4H1410.4" fill="none" stroke="#b0b0b0" stroke-width="1.75"/>
<path d="M1427.7 1070.3V1143.5M1415.1 1070.3H1440.3M1415.1 1143.5H1440.3" fill="none" stroke="#b0b0b0" stroke-width="1.75"/>
<path d="M1457.7 1012.3V1100.6M1445.1 1012.3H1470.3M1445.1 1100.6H1470.3" fill="none" stroke="#b0b0b0" stroke-width="1.75"/>
<path d="M1487.6 1013.2V1120.9M1475 1013.2H1500.2M1475 1120.9H1500.2" fill="none" stroke="#b0b0b0" stroke-width="1.75"/>
<path d="M1517.5 930.8V1063.8M1504.9 930.8H1530.1M1504.9 1063.8H1530.1" fill="none" stroke="#b0b0b0" stroke-width="1.75"/>
<path d="M1547.4 1061.1V1160M1534.8 1061.1H1560M1534.8 1160H1560" fill="none" stroke="#b0b0b0" stroke-width="1.75"/>
<path d="M1577.3 1266.8V1296.7M1564.7 1266.8H1589.9M1564.7 1296.7H1589.9" fill="none" stroke="#b0b0b0" stroke-width="1.75"/>
<path d="M1607.3 1252.6V1285.2M1594.7 1252.6H1619.9M1594.7 1285.2H1619.9" fill="none" stroke="#b0b0b0" stroke-width="1.75"/>
<path d="M1637.2 1251.2V1283.9M1624.6 1251.2H1649.8M1624.6 1283.9H1649.8" fill="none" stroke="#b0b0b0" stroke-width="1.75"/>
<path d="M1667.1 1175.2V1227.7M1654.5 1175.2H1679.7M1654.5 1227.7H1679.7" fill="none" stroke="#b0b0b0" stroke-width="1.75"/>
<path d="M1697 1196.9V1241M1684.4 1196.9H1709.6M1684.4 1241H1709.6" fill="none" stroke="#b0b0b0" stroke-width="1.75"/>
<path d="M1726.9 1141.2V1200.5M1714.3 1141.2H1739.5M1714.3 1200.5H1739.5" fill="none" stroke="#b0b0b0" stroke-width="1.75"/>
<path d="M1756.9 1188.1V1232.8M1744.3 1188.1H1769.5M1744.3 1232.8H1769.5" fill="none" stroke="#b0b0b0" stroke-width="1.75"/>
<path d="M1786.8 1147.1V1203.3M1774.2 1147.1H1799.4M1774.2 1203.3H1799.4" fill="none" stroke="#b0b0b0" stroke-width="1.75"/>
<path d="M1816.7 1141.2V1195.9M1804.1 1141.2H1829.3M1804.1 1195.9H1829.3" fill="none" stroke="#b0b0b0" stroke-width="1.75"/>
<path d="M1846.6 1172.9V1224.5M1834 1172.9H1859.2M1834 1224.5H1859.2" fill="none" stroke="#b0b0b0" stroke-width="1.75"/>
<path d="M1876.5 1116.8V1180.3M1863.9 1116.8H1889.1M1863.9 1180.3H1889.1" fill="none" stroke="#b0b0b0" stroke-width="1.75"/>
<path d="M1906.5 1037.1V1129.2M1893.9 1037.1H1919.1M1893.9 1129.2H1919.1" fill="none" stroke="#b0b0b0" stroke-width="1.75"/>
<path d="M1936.4 1050.5V1136.1M1923.8 1050.5H1949M1923.8 1136.1H1949" fill="none" stroke="#b0b0b0" stroke-width="1.75"/>
<path d="M1966.3 1118.6V1187.2M1953.7 1118.6H1978.9M1953.7 1187.2H1978.9" fill="none" stroke="#b0b0b0" stroke-width="1.75"/>
<path d="M1996.2 1084.5V1170.6M1983.6 1084.5H2008.8M1983.6 1170.6H2008.8" fill="none" stroke="#b0b0b0" stroke-width="1.75"/>
</g>
<rect x="1218.6" y="849.3" width="777.4" height="525.7" fill="none" stroke="#333333" stroke-width="2.0"/>
<line x1="1210.6" y1="849.3" x2="1218.6" y2="849.3" stroke="#333333" stroke-width="1.6"/>
<text transform="translate(1204.3,858.5)" font-family="'Liberation Sans', Arial, Helvetica, sans-serif" font-size="25.8" text-anchor="end" fill="#262626" stroke="#262626" stroke-width="0.25">1.00</text>
<line x1="1210.6" y1="915" x2="1218.6" y2="915" stroke="#333333" stroke-width="1.6"/>
<text transform="translate(1204.3,924.2)" font-family="'Liberation Sans', Arial, Helvetica, sans-serif" font-size="25.8" text-anchor="end" fill="#262626" stroke="#262626" stroke-width="0.25">0.75</text>
<line x1="1210.6" y1="980.7" x2="1218.6" y2="980.7" stroke="#333333" stroke-width="1.6"/>
<text transform="translate(1204.3,989.9)" font-family="'Liberation Sans', Arial, Helvetica, sans-serif" font-size="25.8" text-anchor="end" fill="#262626" stroke="#262626" stroke-width="0.25">0.50</text>
<line x1="1210.6" y1="1046.4" x2="1218.6" y2="1046.4" stroke="#333333" stroke-width="1.6"/>
<text transform="translate(1204.3,1055.6)" font-family="'Liberation Sans', Arial, Helvetica, sans-serif" font-size="25.8" text-anchor="end" fill="#262626" stroke="#262626" stroke-width="0.25">0.25</text>
<line x1="1210.6" y1="1112.2" x2="1218.6" y2="1112.2" stroke="#333333" stroke-width="1.6"/>
<text transform="translate(1204.3,1121.4)" font-family="'Liberation Sans', Arial, Helvetica, sans-serif" font-size="25.8" text-anchor="end" fill="#262626" stroke="#262626" stroke-width="0.25">0.00</text>
<line x1="1210.6" y1="1177.9" x2="1218.6" y2="1177.9" stroke="#333333" stroke-width="1.6"/>
<text transform="translate(1204.3,1187.1)" font-family="'Liberation Sans', Arial, Helvetica, sans-serif" font-size="25.8" text-anchor="end" fill="#262626" stroke="#262626" stroke-width="0.25">−0.25</text>
<line x1="1210.6" y1="1243.6" x2="1218.6" y2="1243.6" stroke="#333333" stroke-width="1.6"/>
<text transform="translate(1204.3,1252.8)" font-family="'Liberation Sans', Arial, Helvetica, sans-serif" font-size="25.8" text-anchor="end" fill="#262626" stroke="#262626" stroke-width="0.25">−0.50</text>
<line x1="1210.6" y1="1309.3" x2="1218.6" y2="1309.3" stroke="#333333" stroke-width="1.6"/>
<text transform="translate(1204.3,1318.5)" font-family="'Liberation Sans', Arial, Helvetica, sans-serif" font-size="25.8" text-anchor="end" fill="#262626" stroke="#262626" stroke-width="0.25">−0.75</text>
<line x1="1210.6" y1="1375" x2="1218.6" y2="1375" stroke="#333333" stroke-width="1.6"/>
<text transform="translate(1204.3,1384.2)" font-family="'Liberation Sans', Arial, Helvetica, sans-serif" font-size="25.8" text-anchor="end" fill="#262626" stroke="#262626" stroke-width="0.25">−1.00</text>
<line x1="1248.2" y1="1375" x2="1248.2" y2="1382.8" stroke="#333333" stroke-width="1.6"/>
<text transform="translate(1248.2,1406.9)" font-family="'Liberation Sans', Arial, Helvetica, sans-serif" font-size="26.5" text-anchor="middle" fill="#262626" stroke="#262626" stroke-width="0.25">2</text>
<line x1="1308.1" y1="1375" x2="1308.1" y2="1382.8" stroke="#333333" stroke-width="1.6"/>
<text transform="translate(1308.1,1406.9)" font-family="'Liberation Sans', Arial, Helvetica, sans-serif" font-size="26.5" text-anchor="middle" fill="#262626" stroke="#262626" stroke-width="0.25">4</text>
<line x1="1367.9" y1="1375" x2="1367.9" y2="1382.8" stroke="#333333" stroke-width="1.6"/>
<text transform="translate(1367.9,1406.9)" font-family="'Liberation Sans', Arial, Helvetica, sans-serif" font-size="26.5" text-anchor="middle" fill="#262626" stroke="#262626" stroke-width="0.25">6</text>
<line x1="1427.7" y1="1375" x2="1427.7" y2="1382.8" stroke="#333333" stroke-width="1.6"/>
<text transform="translate(1427.7,1406.9)" font-family="'Liberation Sans', Arial, Helvetica, sans-serif" font-size="26.5" text-anchor="middle" fill="#262626" stroke="#262626" stroke-width="0.25">8</text>
<line x1="1487.6" y1="1375" x2="1487.6" y2="1382.8" stroke="#333333" stroke-width="1.6"/>
<text transform="translate(1487.6,1406.9)" font-family="'Liberation Sans', Arial, Helvetica, sans-serif" font-size="26.5" text-anchor="middle" fill="#262626" stroke="#262626" stroke-width="0.25">10</text>
<line x1="1547.4" y1="1375" x2="1547.4" y2="1382.8" stroke="#333333" stroke-width="1.6"/>
<text transform="translate(1547.4,1406.9)" font-family="'Liberation Sans', Arial, Helvetica, sans-serif" font-size="26.5" text-anchor="middle" fill="#262626" stroke="#262626" stroke-width="0.25">12</text>
<line x1="1607.3" y1="1375" x2="1607.3" y2="1382.8" stroke="#333333" stroke-width="1.6"/>
<text transform="translate(1607.3,1406.9)" font-family="'Liberation Sans', Arial, Helvetica, sans-serif" font-size="26.5" text-anchor="middle" fill="#262626" stroke="#262626" stroke-width="0.25">14</text>
<line x1="1667.1" y1="1375" x2="1667.1" y2="1382.8" stroke="#333333" stroke-width="1.6"/>
<text transform="translate(1667.1,1406.9)" font-family="'Liberation Sans', Arial, Helvetica, sans-serif" font-size="26.5" text-anchor="middle" fill="#262626" stroke="#262626" stroke-width="0.25">16</text>
<line x1="1726.9" y1="1375" x2="1726.9" y2="1382.8" stroke="#333333" stroke-width="1.6"/>
<text transform="translate(1726.9,1406.9)" font-family="'Liberation Sans', Arial, Helvetica, sans-serif" font-size="26.5" text-anchor="middle" fill="#262626" stroke="#262626" stroke-width="0.25">18</text>
<line x1="1786.8" y1="1375" x2="1786.8" y2="1382.8" stroke="#333333" stroke-width="1.6"/>
<text transform="translate(1786.8,1406.9)" font-family="'Liberation Sans', Arial, Helvetica, sans-serif" font-size="26.5" text-anchor="middle" fill="#262626" stroke="#262626" stroke-width="0.25">20</text>
<line x1="1846.6" y1="1375" x2="1846.6" y2="1382.8" stroke="#333333" stroke-width="1.6"/>
<text transform="translate(1846.6,1406.9)" font-family="'Liberation Sans', Arial, Helvetica, sans-serif" font-size="26.5" text-anchor="middle" fill="#262626" stroke="#262626" stroke-width="0.25">22</text>
<line x1="1906.5" y1="1375" x2="1906.5" y2="1382.8" stroke="#333333" stroke-width="1.6"/>
<text transform="translate(1906.5,1406.9)" font-family="'Liberation Sans', Arial, Helvetica, sans-serif" font-size="26.5" text-anchor="middle" fill="#262626" stroke="#262626" stroke-width="0.25">24</text>
<line x1="1966.3" y1="1375" x2="1966.3" y2="1382.8" stroke="#333333" stroke-width="1.6"/>
<text transform="translate(1966.3,1406.9)" font-family="'Liberation Sans', Arial, Helvetica, sans-serif" font-size="26.5" text-anchor="middle" fill="#262626" stroke="#262626" stroke-width="0.25">26</text>
<text transform="translate(1605.8,1437.5)" font-family="'Liberation Sans', Arial, Helvetica, sans-serif" font-size="28.7" text-anchor="middle" fill="#262626" stroke="#262626" stroke-width="0.25">Week of year (2020)</text>
<text transform="translate(1127.3,1113.8) rotate(-90)" font-family="'Liberation Sans', Arial, Helvetica, sans-serif" font-size="27.8" text-anchor="middle" fill="#262626" stroke="#262626" stroke-width="0.25">anomaly</text>
</g>
<text transform="translate(91.8,701.2) scale(1.021,1)" font-family="'Liberation Serif', 'Times New Roman', serif" font-size="54" text-anchor="start" fill="#000000" font-weight="bold">(a)</text>
<text transform="translate(182.5,701.2) scale(1.007,1)" font-family="'Liberation Serif', 'Times New Roman', serif" font-size="54" text-anchor="start" fill="#000000" stroke="#000" stroke-width="0.3">Observed,</text>
<text transform="translate(415,701.2) scale(1.002,1)" font-family="'Liberation Serif', 'Times New Roman', serif" font-size="54" text-anchor="start" fill="#000000" stroke="#000" stroke-width="0.3">expected</text>
<text transform="translate(624.3,701.2) scale(0.833,1)" font-family="'Liberation Serif', 'Times New Roman', serif" font-size="54" text-anchor="start" fill="#000000" stroke="#000" stroke-width="0.3">NO</text>
<text transform="translate(692.1,703.8)" font-family="'Liberation Serif', 'Times New Roman', serif" font-size="33" text-anchor="start" fill="#000000" stroke="#000" stroke-width="0.3">2</text>
<text transform="translate(720.4,701.2) scale(1.010,1)" font-family="'Liberation Serif', 'Times New Roman', serif" font-size="54" text-anchor="start" fill="#000000" stroke="#000" stroke-width="0.3">over</text>
<text transform="translate(835.1,701.2) scale(1.013,1)" font-family="'Liberation Serif', 'Times New Roman', serif" font-size="54" text-anchor="start" fill="#000000" stroke="#000" stroke-width="0.3">urban</text>
<text transform="translate(503,783.4) scale(1.005,1)" font-family="'Liberation Serif', 'Times New Roman', serif" font-size="54" text-anchor="start" fill="#000000" stroke="#000" stroke-width="0.3">region</text>
<text transform="translate(1205.9,701.5) scale(0.992,1)" font-family="'Liberation Serif', 'Times New Roman', serif" font-size="54" text-anchor="start" fill="#000000" font-weight="bold">(b)</text>
<text transform="translate(1299,701.5) scale(0.833,1)" font-family="'Liberation Serif', 'Times New Roman', serif" font-size="54" text-anchor="start" fill="#000000" stroke="#000" stroke-width="0.3">NO</text>
<text transform="translate(1366.8,704.1)" font-family="'Liberation Serif', 'Times New Roman', serif" font-size="33" text-anchor="start" fill="#000000" stroke="#000" stroke-width="0.3">2</text>
<text transform="translate(1395.6,701.5) scale(0.985,1)" font-family="'Liberation Serif', 'Times New Roman', serif" font-size="54" text-anchor="start" fill="#000000" stroke="#000" stroke-width="0.3">anomaly</text>
<text transform="translate(1593.6,701.5) scale(1.013,1)" font-family="'Liberation Serif', 'Times New Roman', serif" font-size="54" text-anchor="start" fill="#000000" stroke="#000" stroke-width="0.3">over</text>
<text transform="translate(1708.5,701.5) scale(1.014,1)" font-family="'Liberation Serif', 'Times New Roman', serif" font-size="54" text-anchor="start" fill="#000000" stroke="#000" stroke-width="0.3">urban</text>
<text transform="translate(1849,701.5) scale(0.997,1)" font-family="'Liberation Serif', 'Times New Roman', serif" font-size="54" text-anchor="start" fill="#000000" stroke="#000" stroke-width="0.3">region</text>
<text transform="translate(103.1,1535)" font-family="'Liberation Serif', 'Times New Roman', serif" font-size="54" text-anchor="start" fill="#000000" font-weight="bold">(c)</text>
<text transform="translate(193.3,1535) scale(1.005,1)" font-family="'Liberation Serif', 'Times New Roman', serif" font-size="54" text-anchor="start" fill="#000000" stroke="#000" stroke-width="0.3">Observed,</text>
<text transform="translate(425.8,1535) scale(1.002,1)" font-family="'Liberation Serif', 'Times New Roman', serif" font-size="54" text-anchor="start" fill="#000000" stroke="#000" stroke-width="0.3">expected</text>
<text transform="translate(634.7,1535) scale(0.833,1)" font-family="'Liberation Serif', 'Times New Roman', serif" font-size="54" text-anchor="start" fill="#000000" stroke="#000" stroke-width="0.3">NO</text>
<text transform="translate(702.5,1537.6)" font-family="'Liberation Serif', 'Times New Roman', serif" font-size="33" text-anchor="start" fill="#000000" stroke="#000" stroke-width="0.3">2</text>
<text transform="translate(730.7,1535) scale(1.015,1)" font-family="'Liberation Serif', 'Times New Roman', serif" font-size="54" text-anchor="start" fill="#000000" stroke="#000" stroke-width="0.3">over</text>
<text transform="translate(843.5,1535) scale(1.049,1)" font-family="'Liberation Serif', 'Times New Roman', serif" font-size="54" text-anchor="start" fill="#000000" stroke="#000" stroke-width="0.3">rural</text>
<text transform="translate(503,1618) scale(1.005,1)" font-family="'Liberation Serif', 'Times New Roman', serif" font-size="54" text-anchor="start" fill="#000000" stroke="#000" stroke-width="0.3">region</text>
<text transform="translate(1217,1535.6) scale(0.992,1)" font-family="'Liberation Serif', 'Times New Roman', serif" font-size="54" text-anchor="start" fill="#000000" font-weight="bold">(d)</text>
<text transform="translate(1309.7,1535.6) scale(0.833,1)" font-family="'Liberation Serif', 'Times New Roman', serif" font-size="54" text-anchor="start" fill="#000000" stroke="#000" stroke-width="0.3">NO</text>
<text transform="translate(1377.5,1538.2)" font-family="'Liberation Serif', 'Times New Roman', serif" font-size="33" text-anchor="start" fill="#000000" stroke="#000" stroke-width="0.3">2</text>
<text transform="translate(1406.7,1535.6) scale(0.987,1)" font-family="'Liberation Serif', 'Times New Roman', serif" font-size="54" text-anchor="start" fill="#000000" stroke="#000" stroke-width="0.3">anomaly</text>
<text transform="translate(1604.7,1535.6) scale(1.005,1)" font-family="'Liberation Serif', 'Times New Roman', serif" font-size="54" text-anchor="start" fill="#000000" stroke="#000" stroke-width="0.3">over</text>
<text transform="translate(1716.5,1535.6) scale(1.047,1)" font-family="'Liberation Serif', 'Times New Roman', serif" font-size="54" text-anchor="start" fill="#000000" stroke="#000" stroke-width="0.3">rural</text>
<text transform="translate(1838.7,1535.6) scale(0.995,1)" font-family="'Liberation Serif', 'Times New Roman', serif" font-size="54" text-anchor="start" fill="#000000" stroke="#000" stroke-width="0.3">region</text>
</svg>
</body></html>
